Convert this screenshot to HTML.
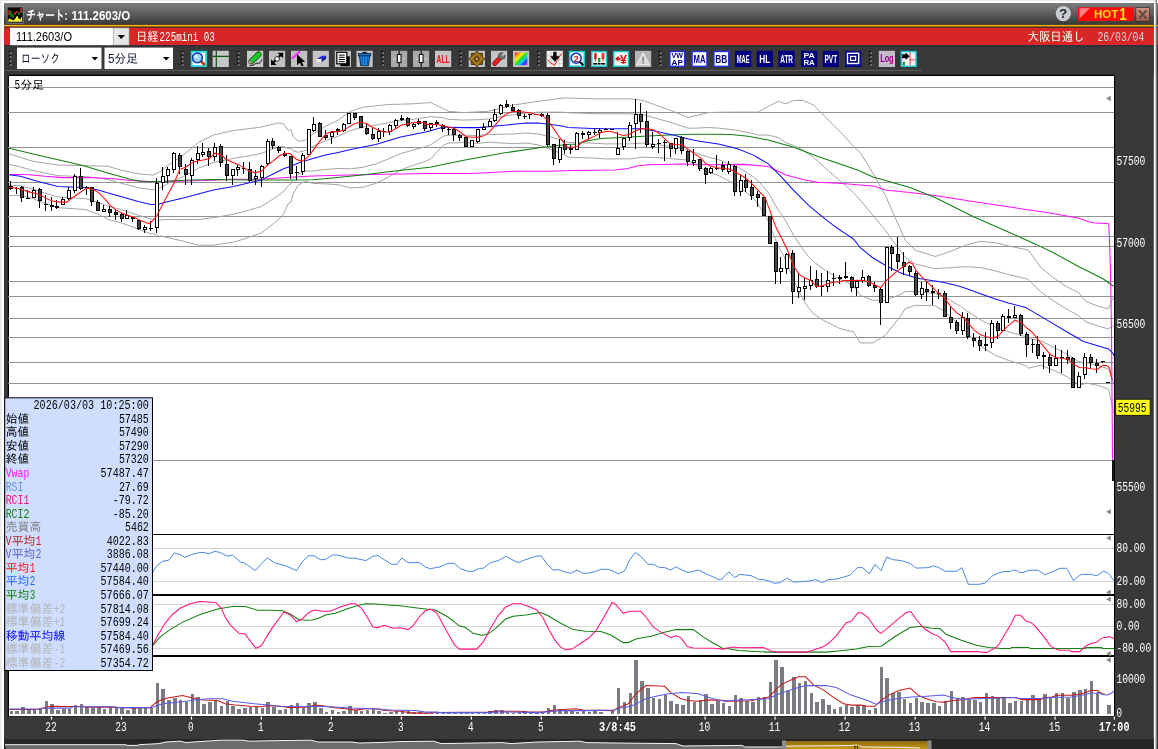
<!DOCTYPE html>
<html lang="ja"><head><meta charset="utf-8"><title>チャート: 111.2603/O</title>
<style>
html,body{margin:0;padding:0;background:#fff;}
body{width:1158px;height:749px;overflow:hidden;position:relative;}
svg{position:absolute;left:0;top:0;display:block;will-change:transform}
text{font-family:"Liberation Sans","IPAGothic","Noto Sans CJK JP",sans-serif;}
.mono{font-family:"Liberation Mono","IPAGothic","Noto Sans CJK JP",monospace;}
</style></head><body>
<svg width="1158" height="749" viewBox="0 0 1158 749">
<defs>
<linearGradient id="tb" x1="0" y1="0" x2="0" y2="1"><stop offset="0" stop-color="#7c7c7c"/><stop offset="0.35" stop-color="#686868"/><stop offset="1" stop-color="#3c3a38"/></linearGradient>
<linearGradient id="cb" x1="0" y1="0" x2="0" y2="1"><stop offset="0" stop-color="#cc9484"/><stop offset="1" stop-color="#a45c4c"/></linearGradient>
<linearGradient id="gold" x1="0" y1="0" x2="0" y2="1"><stop offset="0" stop-color="#8a6a10"/><stop offset="1" stop-color="#c89818"/></linearGradient>
<clipPath id="cc"><rect x="9" y="76" width="1105" height="640"/></clipPath>
</defs>

<rect x="0" y="0" width="1158" height="749" fill="#e9e9e9"/>
<rect x="1.5" y="1" width="1156.5" height="749" fill="#ffffff"/>
<rect x="1155.6" y="0" width="1.3" height="749" fill="#7c7c7c"/>
<rect x="4" y="3" width="1149.8" height="746" fill="#393939"/>
<rect x="4" y="3" width="1149.8" height="21.2" fill="url(#tb)"/>
<rect x="4" y="24" width="1149.8" height="1" fill="#2a2a30"/>
<rect x="4" y="24.8" width="1149.8" height="1.6" fill="#ffb010"/>
<rect x="4" y="26.4" width="1149.8" height="0.7" fill="#9a6a10"/>
<rect x="4" y="27.1" width="1149.8" height="0.8" fill="#3a2a20"/>
<rect x="4" y="27.8" width="1149.8" height="17.3" fill="#d82626"/>
<rect x="4" y="44.2" width="1149.8" height="0.9" fill="#e02a38"/>
<rect x="4" y="45.1" width="1149.8" height="30" fill="#383838"/>
<rect x="4" y="45.1" width="1149.8" height="1.4" fill="#2c3036"/>
<rect x="1156.9" y="3" width="1.1" height="746" fill="#393939"/>
<rect x="1156.9" y="3" width="1.1" height="21.2" fill="url(#tb)"/>
<rect x="1156.9" y="24" width="1.1" height="1" fill="#2a2a30"/>
<rect x="1156.9" y="24.8" width="1.1" height="1.6" fill="#ffb010"/>
<rect x="1156.9" y="26.4" width="1.1" height="0.7" fill="#9a6a10"/>
<rect x="1156.9" y="27.1" width="1.1" height="0.8" fill="#3a2a20"/>
<rect x="1156.9" y="27.8" width="1.1" height="17.3" fill="#d82626"/>
<rect x="1156.9" y="44.2" width="1.1" height="0.9" fill="#e02a38"/>
<rect x="1156.9" y="45.1" width="1.1" height="30" fill="#383838"/>
<rect x="1156.9" y="45.1" width="1.1" height="1.4" fill="#2c3036"/>
<rect x="4" y="69.9" width="918" height="1" fill="#606060"/>
<rect x="7.8" y="74.7" width="1107.2" height="641.5999999999999" fill="#000"/>
<rect x="9" y="76" width="1105" height="640" fill="#fff"/>
<rect x="4" y="739" width="1149.8" height="10" fill="#262626"/>
<g shape-rendering="crispEdges">
<rect x="8" y="86.7" width="1106" height="1" fill="#929292"/>
<rect x="8" y="111.9" width="1106" height="1" fill="#929292"/>
<rect x="8" y="146.7" width="1106" height="1" fill="#929292"/>
<rect x="8" y="181.9" width="1106" height="1" fill="#929292"/>
<rect x="8" y="215.8" width="1106" height="1" fill="#929292"/>
<rect x="8" y="235.8" width="1106" height="1" fill="#929292"/>
<rect x="8" y="245.9" width="1106" height="1" fill="#929292"/>
<rect x="8" y="280.8" width="1106" height="1" fill="#929292"/>
<rect x="8" y="295.9" width="1106" height="1" fill="#929292"/>
<rect x="8" y="317.8" width="1106" height="1" fill="#929292"/>
<rect x="8" y="336.8" width="1106" height="1" fill="#929292"/>
<rect x="8" y="361.9" width="1106" height="1" fill="#929292"/>
<rect x="8" y="382.9" width="1106" height="1" fill="#929292"/>
<rect x="8" y="459.9" width="1106" height="1" fill="#929292"/>
<rect x="9" y="548.0" width="1105" height="1" fill="#d6d6d6"/>
<rect x="9" y="580.8" width="1105" height="1" fill="#d6d6d6"/>
<rect x="9" y="604.0" width="1105" height="1" fill="#d6d6d6"/>
<rect x="9" y="625.7" width="1105" height="1" fill="#d6d6d6"/>
<rect x="9" y="647.9" width="1105" height="1" fill="#d6d6d6"/>
</g>
<g clip-path="url(#cc)">
<polyline points="8.0,153.6 20.5,157.4 33.0,161.3 38.1,162.1 58.1,165.1 83.1,165.6 85.6,165.7 98.2,166.0 108.2,166.3 120.7,170.1 138.2,173.8 150.7,174.9 153.3,175.1 158.3,172.6 160.8,171.3 168.3,165.1 183.3,155.1 198.3,142.6 213.4,135.0 233.4,130.5 248.4,128.7 258.4,127.5 260.9,127.0 273.5,124.1 278.5,123.0 283.5,123.8 288.0,130.1 291.0,130.0 293.0,136.3 298.0,141.3 303.0,140.5 305.5,140.1 313.0,133.9 325.6,126.3 338.1,120.1 350.6,111.3 363.1,107.1 375.7,105.8 388.2,104.5 400.7,104.2 413.2,103.8 425.7,102.9 430.7,102.5 438.3,106.3 443.3,108.8 448.3,111.3 463.3,112.6 478.3,111.8 488.4,111.3 500.9,108.2 513.4,105.0 525.9,103.2 538.4,101.3 551.0,99.7 563.5,98.0 568.0,98.0 593.0,98.8 605.6,98.8 630.6,98.8 643.1,100.5 655.7,105.1 668.2,109.5 673.2,111.3 688.2,117.6 693.2,116.3 698.2,115.1 708.2,112.6 718.3,112.3 730.8,112.1 738.3,112.1 753.3,112.1 758.3,112.1 768.4,106.3 778.4,101.3 780.9,102.1 785.9,103.8 793.4,100.5 803.4,100.5 808.4,102.8 813.4,105.0 823.4,115.0 833.5,125.1 838.5,130.1 843.5,135.1 853.5,146.4 860.2,152.6 872.7,172.6 885.2,195.1 895.2,217.6 900.2,228.8 905.3,240.2 915.3,250.2 932.8,255.7 935.3,256.5 942.8,254.0 950.3,251.5 960.4,247.3 965.4,245.2 977.9,242.0 980.4,241.4 995.4,242.7 1008.3,245.9 1010.4,246.4 1025.8,249.5 1028.4,250.1 1040.9,267.6 1053.4,277.6 1065.9,286.3 1068.4,287.6 1078.4,292.6 1083.4,298.4 1086.0,301.4 1096.0,305.4 1098.5,306.4 1108.5,308.8 1111.0,302.6 1113.0,298.0 1113.5,298.0 1114.0,298.0" fill="none" stroke="#a4a4a4" stroke-width="1" />
<polyline points="8.0,164.1 20.5,166.9 33.0,170.6 38.1,171.7 58.1,175.7 83.1,176.5 85.6,176.6 98.2,178.1 108.2,179.6 120.7,183.2 138.2,187.6 150.7,189.6 153.3,189.7 158.3,188.5 160.8,187.5 168.3,183.2 183.3,176.6 198.3,168.2 213.4,162.6 233.4,158.4 248.4,155.9 258.4,154.1 260.9,153.5 273.5,149.0 278.5,147.2 283.5,146.3 288.0,148.6 291.0,148.0 293.0,150.8 298.0,152.3 303.0,151.0 305.5,150.4 313.0,146.3 325.6,140.7 338.1,136.2 350.6,130.5 363.1,127.1 375.7,125.2 388.2,122.7 400.7,120.6 413.2,119.2 425.7,117.5 430.7,116.6 438.3,117.4 443.3,117.9 448.3,119.3 463.3,120.1 478.3,119.7 488.4,119.0 500.9,116.9 513.4,114.7 525.9,113.1 538.4,112.2 551.0,112.1 563.5,112.2 568.0,112.8 593.0,113.6 605.6,113.8 630.6,113.8 643.1,114.7 655.7,118.2 668.2,121.7 673.2,123.2 688.2,128.2 693.2,128.2 698.2,128.0 708.2,127.5 718.3,128.1 730.8,129.5 738.3,130.5 753.3,133.6 758.3,135.0 768.4,135.1 778.4,137.6 780.9,139.3 785.9,142.9 793.4,145.4 803.4,150.4 808.4,154.0 813.4,157.2 823.4,166.4 833.5,175.2 838.5,179.6 843.5,183.7 853.5,192.7 860.2,200.1 872.7,215.1 885.2,230.1 895.2,243.9 900.2,250.8 905.3,257.3 915.3,264.0 932.8,268.2 935.3,268.8 942.8,268.1 950.3,267.8 960.4,266.9 965.4,266.7 977.9,267.4 980.4,267.5 995.4,270.9 1008.3,274.5 1010.4,275.0 1025.8,278.6 1028.4,279.6 1040.9,292.0 1053.4,300.7 1065.9,308.8 1068.4,310.1 1078.4,315.5 1083.4,319.9 1086.0,321.8 1096.0,325.3 1098.5,326.2 1108.5,328.9 1111.0,327.0 1113.0,325.7 1113.5,326.0 1114.0,327.0" fill="none" stroke="#a4a4a4" stroke-width="1" />
<polyline points="8.0,185.1 20.5,185.8 33.0,189.2 38.1,191.0 58.1,197.0 83.1,198.5 85.6,198.6 98.2,202.2 108.2,206.2 120.7,209.5 138.2,215.2 150.7,219.1 153.3,219.1 158.3,220.3 160.8,219.8 168.3,219.5 183.3,219.7 198.3,219.5 213.4,217.7 233.4,214.3 248.4,210.3 258.4,207.3 260.9,206.7 273.5,198.7 278.5,195.5 283.5,191.4 288.0,185.7 291.0,184.0 293.0,179.7 298.0,174.3 303.0,171.8 305.5,171.0 313.0,171.0 325.6,169.5 338.1,168.5 350.6,168.8 363.1,167.2 375.7,164.0 388.2,159.0 400.7,153.6 413.2,150.0 425.7,146.7 430.7,144.7 438.3,139.6 443.3,136.2 448.3,135.2 463.3,135.1 478.3,135.5 488.4,134.4 500.9,134.3 513.4,134.0 525.9,133.0 538.4,134.0 551.0,137.0 563.5,140.5 568.0,142.4 593.0,143.2 605.6,143.9 630.6,143.9 643.1,143.0 655.7,144.5 668.2,146.0 673.2,147.0 688.2,149.5 693.2,152.0 698.2,153.7 708.2,157.2 718.3,159.6 730.8,164.5 738.3,167.3 753.3,176.7 758.3,181.0 768.4,192.8 778.4,210.3 780.9,213.6 785.9,221.0 793.4,235.0 803.4,250.0 808.4,256.4 813.4,261.5 823.4,269.0 833.5,275.4 838.5,278.5 843.5,281.0 853.5,285.4 860.2,295.3 872.7,300.3 885.2,300.3 895.2,296.5 900.2,294.7 905.3,291.5 915.3,291.5 932.8,293.3 935.3,293.5 942.8,296.4 950.3,300.4 960.4,306.2 965.4,309.9 977.9,318.1 980.4,319.8 995.4,327.2 1008.3,331.7 1010.4,332.3 1025.8,336.7 1028.4,338.6 1040.9,340.8 1053.4,347.1 1065.9,353.6 1068.4,355.2 1078.4,361.4 1083.4,362.9 1086.0,362.6 1096.0,365.1 1098.5,365.7 1108.5,369.0 1111.0,375.9 1113.0,381.2 1113.5,381.9 1114.0,385.0" fill="none" stroke="#a4a4a4" stroke-width="1" />
<polyline points="8.0,195.6 20.5,195.3 33.0,198.5 38.1,200.7 58.1,207.7 83.1,209.4 85.6,209.6 98.2,214.2 108.2,219.5 120.7,222.7 138.2,228.9 150.7,233.9 153.3,233.7 158.3,236.2 160.8,236.0 168.3,237.7 183.3,241.2 198.3,245.2 213.4,245.2 233.4,242.2 248.4,237.5 258.4,233.9 260.9,233.3 273.5,223.5 278.5,219.6 283.5,213.9 288.0,204.2 291.0,202.0 293.0,194.2 298.0,185.3 303.0,182.3 305.5,181.3 313.0,183.4 325.6,183.9 338.1,184.7 350.6,187.9 363.1,187.2 375.7,183.4 388.2,177.2 400.7,170.0 413.2,165.4 425.7,161.3 430.7,158.8 438.3,150.7 443.3,145.4 448.3,143.1 463.3,142.6 478.3,143.4 488.4,142.1 500.9,143.0 513.4,143.6 525.9,143.0 538.4,144.9 551.0,149.5 563.5,154.6 568.0,157.1 593.0,158.1 605.6,158.9 630.6,158.9 643.1,157.1 655.7,157.6 668.2,158.2 673.2,158.9 688.2,160.1 693.2,163.9 698.2,166.6 708.2,172.1 718.3,175.4 730.8,181.9 738.3,185.7 753.3,198.2 758.3,204.0 768.4,221.6 778.4,246.6 780.9,250.8 785.9,260.1 793.4,279.9 803.4,299.9 808.4,307.6 813.4,313.7 823.4,320.4 833.5,325.4 838.5,327.9 843.5,329.6 853.5,331.7 860.2,342.9 872.7,342.9 885.2,335.4 895.2,322.9 900.2,316.6 905.3,308.6 915.3,305.3 932.8,305.8 935.3,305.8 942.8,310.5 950.3,316.7 960.4,325.8 965.4,331.4 977.9,343.5 980.4,345.9 995.4,355.4 1008.3,360.3 1010.4,360.9 1025.8,365.7 1028.4,368.1 1040.9,365.2 1053.4,370.2 1065.9,376.1 1068.4,377.7 1078.4,384.4 1083.4,384.4 1086.0,383.0 1096.0,385.0 1098.5,385.5 1108.5,389.1 1111.0,400.3 1113.0,408.9 1113.5,409.9 1114.0,414.0" fill="none" stroke="#a4a4a4" stroke-width="1" />
<polyline points="8.0,174.5 26.0,174.5 45.0,176.3 63.0,177.6 89.0,177.6 114.0,178.8 131.0,180.6 150.0,181.6 176.0,181.3 204.0,180.6 232.0,179.2 260.0,179.2 290.0,177.2 313.0,176.1 349.0,174.9 386.0,174.2 430.0,173.5 471.0,173.5 514.0,171.3 551.0,171.3 570.0,170.5 615.0,170.1 628.0,168.4 637.0,166.1 648.0,164.8 662.0,164.4 683.0,164.1 710.0,164.8 743.0,164.4 768.0,166.4 776.0,170.2 786.0,175.0 806.0,180.2 818.0,182.2 843.0,183.5 860.0,185.1 875.0,186.3 885.0,190.1 910.0,192.6 935.0,195.6 973.0,201.4 1010.0,207.1 1050.0,213.1 1078.0,218.0 1088.0,221.4 1092.7,222.7 1108.7,223.8 1109.5,240.0 1110.5,270.0 1111.5,330.0 1112.5,460.0 1113.0,480.0" fill="none" stroke="#ff10ff" stroke-width="1.05" />
<polyline points="8.0,148.1 45.0,156.7 82.0,165.3 106.0,172.6 131.0,179.4 143.0,181.5 150.0,181.8 165.0,181.3 190.0,180.1 215.0,179.6 246.0,180.1 290.0,180.0 313.0,179.8 337.0,177.6 362.0,174.9 386.0,172.1 411.0,169.3 430.0,167.3 465.0,160.0 502.0,153.3 539.0,147.7 553.0,145.9 570.0,144.3 576.0,144.3 588.0,140.7 601.0,138.5 621.0,137.4 648.0,136.1 675.0,134.7 694.0,134.3 710.0,134.2 731.0,134.6 748.0,136.3 768.0,140.1 793.0,147.1 818.0,156.4 843.0,165.1 858.0,170.2 873.0,177.1 910.0,187.6 935.0,197.6 973.0,216.4 1010.0,232.7 1035.0,243.9 1053.0,252.5 1078.0,266.3 1103.0,278.8 1113.5,286.3" fill="none" stroke="#108010" stroke-width="1.05" />
<polyline points="8.0,174.6 20.5,176.3 33.0,179.9 38.1,181.4 58.1,186.4 83.1,187.5 85.6,187.6 98.2,190.1 108.2,192.9 120.7,196.4 138.2,201.4 150.7,204.4 153.3,204.4 158.3,204.4 160.8,203.6 168.3,201.4 183.3,198.1 198.3,193.9 213.4,190.1 233.4,186.4 248.4,183.1 258.4,180.7 260.9,180.1 273.5,173.8 278.5,171.3 283.5,168.8 288.0,167.2 291.0,166.0 293.0,165.2 298.0,163.3 303.0,161.4 305.5,160.7 313.0,158.6 325.6,155.1 338.1,152.4 350.6,149.6 363.1,147.1 375.7,144.6 388.2,140.8 400.7,137.1 413.2,134.6 425.7,132.1 430.7,130.7 438.3,128.5 443.3,127.1 448.3,127.2 463.3,127.6 478.3,127.6 488.4,126.7 500.9,125.6 513.4,124.3 525.9,123.1 538.4,123.1 551.0,124.6 563.5,126.3 568.0,127.6 593.0,128.4 605.6,128.8 630.6,128.8 643.1,128.8 655.7,131.3 668.2,133.9 673.2,135.1 688.2,138.9 693.2,140.1 698.2,140.9 708.2,142.4 718.3,143.9 730.8,147.0 738.3,148.9 753.3,155.1 758.3,158.0 768.4,163.9 778.4,173.9 780.9,176.4 785.9,181.9 793.4,190.2 803.4,200.2 808.4,205.2 813.4,209.4 823.4,217.7 833.5,225.3 838.5,229.0 843.5,232.4 853.5,239.0 860.2,247.7 872.7,257.7 885.2,265.2 895.2,270.2 900.2,272.7 905.3,274.4 915.3,277.7 932.8,280.7 935.3,281.1 942.8,282.2 950.3,284.1 960.4,286.5 965.4,288.3 977.9,292.8 980.4,293.7 995.4,299.0 1008.3,303.1 1010.4,303.6 1025.8,307.6 1028.4,309.1 1040.9,316.4 1053.4,323.9 1065.9,331.2 1068.4,332.7 1078.4,338.5 1083.4,341.4 1086.0,342.2 1096.0,345.2 1098.5,345.9 1108.5,348.9 1111.0,351.4 1113.0,353.4 1113.5,354.0 1114.0,356.0" fill="none" stroke="#1010ff" stroke-width="1.05" />
<g shape-rendering="crispEdges">
<rect x="10" y="181" width="1" height="9" fill="#000"/>
<rect x="9" y="186" width="4" height="3" fill="#000"/>
<rect x="10" y="187" width="2" height="1" fill="#484848"/>
<rect x="16" y="187" width="1" height="7" fill="#000"/>
<rect x="15" y="188" width="4" height="1" fill="#000"/>
<rect x="21" y="186" width="1" height="16" fill="#000"/>
<rect x="20" y="187" width="4" height="11" fill="#000"/>
<rect x="21" y="188" width="2" height="9" fill="#484848"/>
<rect x="27" y="190" width="1" height="9" fill="#000"/>
<rect x="26" y="191" width="4" height="1" fill="#000"/>
<rect x="26" y="198" width="4" height="1" fill="#000"/>
<rect x="33" y="187" width="1" height="11" fill="#000"/>
<rect x="32" y="190" width="4" height="8" fill="#000"/>
<rect x="33" y="191" width="2" height="6" fill="#fff"/>
<rect x="39" y="188" width="1" height="20" fill="#000"/>
<rect x="38" y="189" width="4" height="12" fill="#000"/>
<rect x="39" y="190" width="2" height="10" fill="#484848"/>
<rect x="45" y="195" width="1" height="16" fill="#000"/>
<rect x="44" y="204" width="4" height="1" fill="#000"/>
<rect x="51" y="197" width="1" height="14" fill="#000"/>
<rect x="50" y="205" width="4" height="2" fill="#000"/>
<rect x="56" y="200" width="1" height="9" fill="#000"/>
<rect x="55" y="206" width="4" height="2" fill="#000"/>
<rect x="62" y="197" width="1" height="8" fill="#000"/>
<rect x="61" y="199" width="4" height="6" fill="#000"/>
<rect x="62" y="200" width="2" height="4" fill="#fff"/>
<rect x="68" y="187" width="1" height="13" fill="#000"/>
<rect x="67" y="190" width="4" height="9" fill="#000"/>
<rect x="68" y="191" width="2" height="7" fill="#fff"/>
<rect x="74" y="174" width="1" height="19" fill="#000"/>
<rect x="73" y="176" width="4" height="15" fill="#000"/>
<rect x="74" y="177" width="2" height="13" fill="#fff"/>
<rect x="80" y="168" width="1" height="22" fill="#000"/>
<rect x="79" y="176" width="4" height="13" fill="#000"/>
<rect x="80" y="177" width="2" height="11" fill="#484848"/>
<rect x="86" y="186" width="1" height="9" fill="#000"/>
<rect x="85" y="187" width="4" height="1" fill="#000"/>
<rect x="91" y="187" width="1" height="19" fill="#000"/>
<rect x="90" y="187" width="4" height="15" fill="#000"/>
<rect x="91" y="188" width="2" height="13" fill="#484848"/>
<rect x="97" y="200" width="1" height="11" fill="#000"/>
<rect x="96" y="202" width="4" height="9" fill="#000"/>
<rect x="97" y="203" width="2" height="7" fill="#484848"/>
<rect x="103" y="205" width="1" height="6" fill="#000"/>
<rect x="102" y="209" width="4" height="3" fill="#000"/>
<rect x="103" y="210" width="2" height="1" fill="#fff"/>
<rect x="109" y="206" width="1" height="11" fill="#000"/>
<rect x="108" y="209" width="4" height="4" fill="#000"/>
<rect x="109" y="210" width="2" height="2" fill="#484848"/>
<rect x="115" y="210" width="1" height="10" fill="#000"/>
<rect x="114" y="212" width="4" height="3" fill="#000"/>
<rect x="115" y="213" width="2" height="1" fill="#484848"/>
<rect x="121" y="213" width="1" height="9" fill="#000"/>
<rect x="120" y="214" width="4" height="5" fill="#000"/>
<rect x="121" y="215" width="2" height="3" fill="#484848"/>
<rect x="126" y="210" width="1" height="9" fill="#000"/>
<rect x="125" y="215" width="4" height="4" fill="#000"/>
<rect x="126" y="216" width="2" height="2" fill="#fff"/>
<rect x="132" y="217" width="1" height="5" fill="#000"/>
<rect x="131" y="217" width="4" height="2" fill="#000"/>
<rect x="138" y="220" width="1" height="10" fill="#000"/>
<rect x="137" y="220" width="4" height="9" fill="#000"/>
<rect x="138" y="221" width="2" height="7" fill="#484848"/>
<rect x="144" y="225" width="1" height="8" fill="#000"/>
<rect x="143" y="227" width="4" height="3" fill="#000"/>
<rect x="144" y="228" width="2" height="1" fill="#fff"/>
<rect x="150" y="221" width="1" height="10" fill="#000"/>
<rect x="149" y="228" width="4" height="1" fill="#000"/>
<rect x="156" y="178" width="1" height="55" fill="#000"/>
<rect x="155" y="183" width="4" height="45" fill="#000"/>
<rect x="156" y="184" width="2" height="43" fill="#fff"/>
<rect x="162" y="167" width="1" height="23" fill="#000"/>
<rect x="161" y="176" width="4" height="7" fill="#000"/>
<rect x="162" y="177" width="2" height="5" fill="#fff"/>
<rect x="167" y="167" width="1" height="16" fill="#000"/>
<rect x="166" y="169" width="4" height="7" fill="#000"/>
<rect x="167" y="170" width="2" height="5" fill="#fff"/>
<rect x="173" y="152" width="1" height="21" fill="#000"/>
<rect x="172" y="153" width="4" height="17" fill="#000"/>
<rect x="173" y="154" width="2" height="15" fill="#fff"/>
<rect x="179" y="153" width="1" height="21" fill="#000"/>
<rect x="178" y="155" width="4" height="12" fill="#000"/>
<rect x="179" y="156" width="2" height="10" fill="#484848"/>
<rect x="185" y="164" width="1" height="21" fill="#000"/>
<rect x="184" y="169" width="4" height="6" fill="#000"/>
<rect x="185" y="170" width="2" height="4" fill="#484848"/>
<rect x="191" y="158" width="1" height="27" fill="#000"/>
<rect x="190" y="160" width="4" height="16" fill="#000"/>
<rect x="191" y="161" width="2" height="14" fill="#fff"/>
<rect x="197" y="146" width="1" height="18" fill="#000"/>
<rect x="196" y="153" width="4" height="7" fill="#000"/>
<rect x="197" y="154" width="2" height="5" fill="#fff"/>
<rect x="202" y="143" width="1" height="14" fill="#000"/>
<rect x="201" y="152" width="4" height="3" fill="#000"/>
<rect x="202" y="153" width="2" height="1" fill="#fff"/>
<rect x="208" y="148" width="1" height="18" fill="#000"/>
<rect x="207" y="151" width="4" height="6" fill="#000"/>
<rect x="208" y="152" width="2" height="4" fill="#484848"/>
<rect x="214" y="143" width="1" height="18" fill="#000"/>
<rect x="213" y="147" width="4" height="10" fill="#000"/>
<rect x="214" y="148" width="2" height="8" fill="#fff"/>
<rect x="220" y="144" width="1" height="23" fill="#000"/>
<rect x="219" y="146" width="4" height="17" fill="#000"/>
<rect x="220" y="147" width="2" height="15" fill="#484848"/>
<rect x="226" y="155" width="1" height="26" fill="#000"/>
<rect x="225" y="164" width="4" height="12" fill="#000"/>
<rect x="226" y="165" width="2" height="10" fill="#484848"/>
<rect x="232" y="169" width="1" height="16" fill="#000"/>
<rect x="231" y="169" width="4" height="7" fill="#000"/>
<rect x="232" y="170" width="2" height="5" fill="#fff"/>
<rect x="237" y="165" width="1" height="11" fill="#000"/>
<rect x="236" y="167" width="4" height="3" fill="#000"/>
<rect x="237" y="168" width="2" height="1" fill="#fff"/>
<rect x="243" y="162" width="1" height="12" fill="#000"/>
<rect x="242" y="168" width="4" height="1" fill="#000"/>
<rect x="249" y="162" width="1" height="20" fill="#000"/>
<rect x="248" y="169" width="4" height="12" fill="#000"/>
<rect x="249" y="170" width="2" height="10" fill="#484848"/>
<rect x="255" y="170" width="1" height="15" fill="#000"/>
<rect x="254" y="176" width="4" height="3" fill="#000"/>
<rect x="255" y="177" width="2" height="1" fill="#fff"/>
<rect x="261" y="165" width="1" height="22" fill="#000"/>
<rect x="260" y="166" width="4" height="12" fill="#000"/>
<rect x="261" y="167" width="2" height="10" fill="#fff"/>
<rect x="267" y="139" width="1" height="27" fill="#000"/>
<rect x="266" y="141" width="4" height="23" fill="#000"/>
<rect x="267" y="142" width="2" height="21" fill="#fff"/>
<rect x="272" y="138" width="1" height="11" fill="#000"/>
<rect x="271" y="141" width="4" height="5" fill="#000"/>
<rect x="272" y="142" width="2" height="3" fill="#484848"/>
<rect x="278" y="146" width="1" height="7" fill="#000"/>
<rect x="277" y="147" width="4" height="4" fill="#000"/>
<rect x="278" y="148" width="2" height="2" fill="#484848"/>
<rect x="284" y="151" width="1" height="6" fill="#000"/>
<rect x="283" y="153" width="4" height="3" fill="#000"/>
<rect x="284" y="154" width="2" height="1" fill="#484848"/>
<rect x="290" y="156" width="1" height="23" fill="#000"/>
<rect x="289" y="156" width="4" height="18" fill="#000"/>
<rect x="290" y="157" width="2" height="16" fill="#484848"/>
<rect x="296" y="166" width="1" height="14" fill="#000"/>
<rect x="295" y="172" width="4" height="1" fill="#000"/>
<rect x="302" y="153" width="1" height="22" fill="#000"/>
<rect x="301" y="155" width="4" height="17" fill="#000"/>
<rect x="302" y="156" width="2" height="15" fill="#fff"/>
<rect x="308" y="129" width="1" height="26" fill="#000"/>
<rect x="307" y="129" width="4" height="26" fill="#000"/>
<rect x="308" y="130" width="2" height="24" fill="#fff"/>
<rect x="313" y="117" width="1" height="15" fill="#000"/>
<rect x="312" y="124" width="4" height="7" fill="#000"/>
<rect x="313" y="125" width="2" height="5" fill="#fff"/>
<rect x="319" y="122" width="1" height="15" fill="#000"/>
<rect x="318" y="123" width="4" height="14" fill="#000"/>
<rect x="319" y="124" width="2" height="12" fill="#484848"/>
<rect x="325" y="130" width="1" height="10" fill="#000"/>
<rect x="324" y="135" width="4" height="3" fill="#000"/>
<rect x="325" y="136" width="2" height="1" fill="#484848"/>
<rect x="331" y="132" width="1" height="12" fill="#000"/>
<rect x="330" y="132" width="4" height="5" fill="#000"/>
<rect x="331" y="133" width="2" height="3" fill="#fff"/>
<rect x="337" y="128" width="1" height="7" fill="#000"/>
<rect x="336" y="129" width="4" height="3" fill="#000"/>
<rect x="337" y="130" width="2" height="1" fill="#484848"/>
<rect x="343" y="123" width="1" height="9" fill="#000"/>
<rect x="342" y="124" width="4" height="7" fill="#000"/>
<rect x="343" y="125" width="2" height="5" fill="#fff"/>
<rect x="348" y="113" width="1" height="11" fill="#000"/>
<rect x="347" y="113" width="4" height="11" fill="#000"/>
<rect x="348" y="114" width="2" height="9" fill="#fff"/>
<rect x="354" y="113" width="1" height="7" fill="#000"/>
<rect x="353" y="113" width="4" height="5" fill="#000"/>
<rect x="354" y="114" width="2" height="3" fill="#484848"/>
<rect x="360" y="116" width="1" height="12" fill="#000"/>
<rect x="359" y="116" width="4" height="12" fill="#000"/>
<rect x="360" y="117" width="2" height="10" fill="#484848"/>
<rect x="366" y="124" width="1" height="11" fill="#000"/>
<rect x="365" y="128" width="4" height="6" fill="#000"/>
<rect x="366" y="129" width="2" height="4" fill="#484848"/>
<rect x="372" y="128" width="1" height="12" fill="#000"/>
<rect x="371" y="134" width="4" height="5" fill="#000"/>
<rect x="372" y="135" width="2" height="3" fill="#484848"/>
<rect x="378" y="128" width="1" height="14" fill="#000"/>
<rect x="377" y="131" width="4" height="8" fill="#000"/>
<rect x="378" y="132" width="2" height="6" fill="#fff"/>
<rect x="383" y="128" width="1" height="9" fill="#000"/>
<rect x="382" y="131" width="4" height="1" fill="#000"/>
<rect x="389" y="124" width="1" height="11" fill="#000"/>
<rect x="388" y="125" width="4" height="7" fill="#000"/>
<rect x="389" y="126" width="2" height="5" fill="#fff"/>
<rect x="395" y="119" width="1" height="10" fill="#000"/>
<rect x="394" y="120" width="4" height="6" fill="#000"/>
<rect x="395" y="121" width="2" height="4" fill="#fff"/>
<rect x="401" y="115" width="1" height="6" fill="#000"/>
<rect x="400" y="118" width="4" height="2" fill="#000"/>
<rect x="407" y="117" width="1" height="10" fill="#000"/>
<rect x="406" y="118" width="4" height="8" fill="#000"/>
<rect x="407" y="119" width="2" height="6" fill="#484848"/>
<rect x="413" y="123" width="1" height="6" fill="#000"/>
<rect x="412" y="124" width="4" height="3" fill="#000"/>
<rect x="413" y="125" width="2" height="1" fill="#fff"/>
<rect x="418" y="119" width="1" height="6" fill="#000"/>
<rect x="417" y="121" width="4" height="3" fill="#000"/>
<rect x="418" y="122" width="2" height="1" fill="#484848"/>
<rect x="424" y="121" width="1" height="10" fill="#000"/>
<rect x="423" y="121" width="4" height="8" fill="#000"/>
<rect x="424" y="122" width="2" height="6" fill="#484848"/>
<rect x="430" y="123" width="1" height="8" fill="#000"/>
<rect x="429" y="123" width="4" height="5" fill="#000"/>
<rect x="430" y="124" width="2" height="3" fill="#fff"/>
<rect x="436" y="120" width="1" height="7" fill="#000"/>
<rect x="435" y="122" width="4" height="2" fill="#000"/>
<rect x="442" y="124" width="1" height="8" fill="#000"/>
<rect x="441" y="125" width="4" height="4" fill="#000"/>
<rect x="442" y="126" width="2" height="2" fill="#484848"/>
<rect x="448" y="127" width="1" height="8" fill="#000"/>
<rect x="447" y="129" width="4" height="1" fill="#000"/>
<rect x="453" y="128" width="1" height="13" fill="#000"/>
<rect x="452" y="129" width="4" height="6" fill="#000"/>
<rect x="453" y="130" width="2" height="4" fill="#484848"/>
<rect x="459" y="134" width="1" height="7" fill="#000"/>
<rect x="458" y="135" width="4" height="3" fill="#000"/>
<rect x="459" y="136" width="2" height="1" fill="#484848"/>
<rect x="465" y="137" width="1" height="10" fill="#000"/>
<rect x="464" y="137" width="4" height="10" fill="#000"/>
<rect x="465" y="138" width="2" height="8" fill="#484848"/>
<rect x="471" y="140" width="1" height="7" fill="#000"/>
<rect x="470" y="140" width="4" height="7" fill="#000"/>
<rect x="471" y="141" width="2" height="5" fill="#fff"/>
<rect x="477" y="129" width="1" height="14" fill="#000"/>
<rect x="476" y="129" width="4" height="13" fill="#000"/>
<rect x="477" y="130" width="2" height="11" fill="#fff"/>
<rect x="483" y="123" width="1" height="7" fill="#000"/>
<rect x="482" y="127" width="4" height="3" fill="#000"/>
<rect x="483" y="128" width="2" height="1" fill="#fff"/>
<rect x="489" y="119" width="1" height="8" fill="#000"/>
<rect x="488" y="121" width="4" height="6" fill="#000"/>
<rect x="489" y="122" width="2" height="4" fill="#fff"/>
<rect x="494" y="109" width="1" height="13" fill="#000"/>
<rect x="493" y="114" width="4" height="7" fill="#000"/>
<rect x="494" y="115" width="2" height="5" fill="#fff"/>
<rect x="500" y="104" width="1" height="11" fill="#000"/>
<rect x="499" y="105" width="4" height="9" fill="#000"/>
<rect x="500" y="106" width="2" height="7" fill="#fff"/>
<rect x="506" y="100" width="1" height="8" fill="#000"/>
<rect x="505" y="104" width="4" height="3" fill="#000"/>
<rect x="506" y="105" width="2" height="1" fill="#484848"/>
<rect x="512" y="104" width="1" height="7" fill="#000"/>
<rect x="511" y="107" width="4" height="4" fill="#000"/>
<rect x="512" y="108" width="2" height="2" fill="#484848"/>
<rect x="518" y="109" width="1" height="10" fill="#000"/>
<rect x="517" y="110" width="4" height="6" fill="#000"/>
<rect x="518" y="111" width="2" height="4" fill="#484848"/>
<rect x="524" y="114" width="1" height="5" fill="#000"/>
<rect x="523" y="116" width="4" height="1" fill="#000"/>
<rect x="529" y="114" width="1" height="5" fill="#000"/>
<rect x="528" y="114" width="4" height="1" fill="#000"/>
<rect x="535" y="114" width="1" height="1" fill="#000"/>
<rect x="534" y="114" width="4" height="1" fill="#000"/>
<rect x="541" y="113" width="1" height="4" fill="#000"/>
<rect x="540" y="114" width="4" height="2" fill="#000"/>
<rect x="547" y="113" width="1" height="33" fill="#000"/>
<rect x="546" y="115" width="4" height="30" fill="#000"/>
<rect x="547" y="116" width="2" height="28" fill="#484848"/>
<rect x="553" y="144" width="1" height="21" fill="#000"/>
<rect x="552" y="144" width="4" height="15" fill="#000"/>
<rect x="553" y="145" width="2" height="13" fill="#484848"/>
<rect x="559" y="139" width="1" height="24" fill="#000"/>
<rect x="558" y="147" width="4" height="13" fill="#000"/>
<rect x="559" y="148" width="2" height="11" fill="#fff"/>
<rect x="564" y="140" width="1" height="14" fill="#000"/>
<rect x="563" y="144" width="4" height="6" fill="#000"/>
<rect x="564" y="145" width="2" height="4" fill="#484848"/>
<rect x="570" y="145" width="1" height="9" fill="#000"/>
<rect x="569" y="148" width="4" height="2" fill="#000"/>
<rect x="576" y="132" width="1" height="18" fill="#000"/>
<rect x="575" y="133" width="4" height="17" fill="#000"/>
<rect x="576" y="134" width="2" height="15" fill="#fff"/>
<rect x="582" y="131" width="1" height="8" fill="#000"/>
<rect x="581" y="133" width="4" height="2" fill="#000"/>
<rect x="588" y="131" width="1" height="8" fill="#000"/>
<rect x="587" y="132" width="4" height="3" fill="#000"/>
<rect x="588" y="133" width="2" height="1" fill="#fff"/>
<rect x="594" y="128" width="1" height="7" fill="#000"/>
<rect x="593" y="132" width="4" height="1" fill="#000"/>
<rect x="599" y="128" width="1" height="10" fill="#000"/>
<rect x="598" y="130" width="4" height="3" fill="#000"/>
<rect x="599" y="131" width="2" height="1" fill="#fff"/>
<rect x="605" y="128" width="1" height="2" fill="#000"/>
<rect x="604" y="129" width="4" height="1" fill="#000"/>
<rect x="611" y="129" width="1" height="1" fill="#000"/>
<rect x="610" y="129" width="4" height="1" fill="#000"/>
<rect x="617" y="132" width="1" height="23" fill="#000"/>
<rect x="616" y="148" width="4" height="7" fill="#000"/>
<rect x="617" y="149" width="2" height="5" fill="#fff"/>
<rect x="623" y="138" width="1" height="12" fill="#000"/>
<rect x="622" y="138" width="4" height="9" fill="#000"/>
<rect x="623" y="139" width="2" height="7" fill="#fff"/>
<rect x="629" y="122" width="1" height="19" fill="#000"/>
<rect x="628" y="125" width="4" height="13" fill="#000"/>
<rect x="629" y="126" width="2" height="11" fill="#fff"/>
<rect x="635" y="99" width="1" height="50" fill="#000"/>
<rect x="634" y="114" width="4" height="10" fill="#000"/>
<rect x="635" y="115" width="2" height="8" fill="#fff"/>
<rect x="640" y="103" width="1" height="30" fill="#000"/>
<rect x="639" y="114" width="4" height="8" fill="#000"/>
<rect x="640" y="115" width="2" height="6" fill="#484848"/>
<rect x="646" y="111" width="1" height="36" fill="#000"/>
<rect x="645" y="121" width="4" height="24" fill="#000"/>
<rect x="646" y="122" width="2" height="22" fill="#484848"/>
<rect x="652" y="132" width="1" height="17" fill="#000"/>
<rect x="651" y="144" width="4" height="3" fill="#000"/>
<rect x="652" y="145" width="2" height="1" fill="#fff"/>
<rect x="658" y="139" width="1" height="14" fill="#000"/>
<rect x="657" y="143" width="4" height="1" fill="#000"/>
<rect x="664" y="140" width="1" height="21" fill="#000"/>
<rect x="663" y="142" width="4" height="1" fill="#000"/>
<rect x="670" y="143" width="1" height="14" fill="#000"/>
<rect x="669" y="143" width="4" height="6" fill="#000"/>
<rect x="670" y="144" width="2" height="4" fill="#484848"/>
<rect x="675" y="138" width="1" height="16" fill="#000"/>
<rect x="674" y="138" width="4" height="11" fill="#000"/>
<rect x="675" y="139" width="2" height="9" fill="#fff"/>
<rect x="681" y="136" width="1" height="18" fill="#000"/>
<rect x="680" y="137" width="4" height="14" fill="#000"/>
<rect x="681" y="138" width="2" height="12" fill="#484848"/>
<rect x="687" y="150" width="1" height="16" fill="#000"/>
<rect x="686" y="151" width="4" height="11" fill="#000"/>
<rect x="687" y="152" width="2" height="9" fill="#484848"/>
<rect x="693" y="149" width="1" height="17" fill="#000"/>
<rect x="692" y="160" width="4" height="3" fill="#000"/>
<rect x="693" y="161" width="2" height="1" fill="#fff"/>
<rect x="699" y="159" width="1" height="12" fill="#000"/>
<rect x="698" y="159" width="4" height="10" fill="#000"/>
<rect x="699" y="160" width="2" height="8" fill="#484848"/>
<rect x="705" y="167" width="1" height="17" fill="#000"/>
<rect x="704" y="168" width="4" height="7" fill="#000"/>
<rect x="705" y="169" width="2" height="5" fill="#484848"/>
<rect x="710" y="167" width="1" height="7" fill="#000"/>
<rect x="709" y="168" width="4" height="5" fill="#000"/>
<rect x="710" y="169" width="2" height="3" fill="#fff"/>
<rect x="716" y="155" width="1" height="15" fill="#000"/>
<rect x="715" y="168" width="4" height="1" fill="#000"/>
<rect x="722" y="162" width="1" height="10" fill="#000"/>
<rect x="721" y="165" width="4" height="5" fill="#000"/>
<rect x="722" y="166" width="2" height="3" fill="#484848"/>
<rect x="728" y="161" width="1" height="13" fill="#000"/>
<rect x="727" y="164" width="4" height="8" fill="#000"/>
<rect x="728" y="165" width="2" height="6" fill="#fff"/>
<rect x="734" y="165" width="1" height="31" fill="#000"/>
<rect x="733" y="166" width="4" height="26" fill="#000"/>
<rect x="734" y="167" width="2" height="24" fill="#484848"/>
<rect x="740" y="175" width="1" height="21" fill="#000"/>
<rect x="739" y="180" width="4" height="12" fill="#000"/>
<rect x="740" y="181" width="2" height="10" fill="#fff"/>
<rect x="745" y="174" width="1" height="18" fill="#000"/>
<rect x="744" y="180" width="4" height="8" fill="#000"/>
<rect x="745" y="181" width="2" height="6" fill="#484848"/>
<rect x="751" y="180" width="1" height="20" fill="#000"/>
<rect x="750" y="187" width="4" height="9" fill="#000"/>
<rect x="751" y="188" width="2" height="7" fill="#484848"/>
<rect x="757" y="191" width="1" height="16" fill="#000"/>
<rect x="756" y="194" width="4" height="4" fill="#000"/>
<rect x="757" y="195" width="2" height="2" fill="#484848"/>
<rect x="763" y="197" width="1" height="19" fill="#000"/>
<rect x="762" y="197" width="4" height="19" fill="#000"/>
<rect x="763" y="198" width="2" height="17" fill="#484848"/>
<rect x="769" y="216" width="1" height="28" fill="#000"/>
<rect x="768" y="216" width="4" height="28" fill="#000"/>
<rect x="769" y="217" width="2" height="26" fill="#484848"/>
<rect x="775" y="242" width="1" height="42" fill="#000"/>
<rect x="774" y="242" width="4" height="30" fill="#000"/>
<rect x="775" y="243" width="2" height="28" fill="#484848"/>
<rect x="780" y="257" width="1" height="27" fill="#000"/>
<rect x="779" y="268" width="4" height="4" fill="#000"/>
<rect x="780" y="269" width="2" height="2" fill="#fff"/>
<rect x="786" y="253" width="1" height="21" fill="#000"/>
<rect x="785" y="254" width="4" height="15" fill="#000"/>
<rect x="786" y="255" width="2" height="13" fill="#fff"/>
<rect x="792" y="250" width="1" height="54" fill="#000"/>
<rect x="791" y="253" width="4" height="39" fill="#000"/>
<rect x="792" y="254" width="2" height="37" fill="#484848"/>
<rect x="798" y="274" width="1" height="24" fill="#000"/>
<rect x="797" y="287" width="4" height="5" fill="#000"/>
<rect x="798" y="288" width="2" height="3" fill="#fff"/>
<rect x="804" y="278" width="1" height="22" fill="#000"/>
<rect x="803" y="286" width="4" height="3" fill="#000"/>
<rect x="804" y="287" width="2" height="1" fill="#fff"/>
<rect x="810" y="266" width="1" height="24" fill="#000"/>
<rect x="809" y="280" width="4" height="6" fill="#000"/>
<rect x="810" y="281" width="2" height="4" fill="#fff"/>
<rect x="816" y="270" width="1" height="18" fill="#000"/>
<rect x="815" y="279" width="4" height="8" fill="#000"/>
<rect x="816" y="280" width="2" height="6" fill="#484848"/>
<rect x="821" y="273" width="1" height="23" fill="#000"/>
<rect x="820" y="286" width="4" height="1" fill="#000"/>
<rect x="827" y="271" width="1" height="21" fill="#000"/>
<rect x="826" y="280" width="4" height="7" fill="#000"/>
<rect x="827" y="281" width="2" height="5" fill="#fff"/>
<rect x="833" y="273" width="1" height="13" fill="#000"/>
<rect x="832" y="278" width="4" height="1" fill="#000"/>
<rect x="839" y="275" width="1" height="9" fill="#000"/>
<rect x="838" y="277" width="4" height="2" fill="#000"/>
<rect x="845" y="262" width="1" height="17" fill="#000"/>
<rect x="844" y="276" width="4" height="2" fill="#000"/>
<rect x="851" y="276" width="1" height="16" fill="#000"/>
<rect x="850" y="277" width="4" height="11" fill="#000"/>
<rect x="851" y="278" width="2" height="9" fill="#484848"/>
<rect x="856" y="281" width="1" height="15" fill="#000"/>
<rect x="855" y="281" width="4" height="7" fill="#000"/>
<rect x="856" y="282" width="2" height="5" fill="#fff"/>
<rect x="862" y="270" width="1" height="13" fill="#000"/>
<rect x="861" y="277" width="4" height="4" fill="#000"/>
<rect x="862" y="278" width="2" height="2" fill="#fff"/>
<rect x="868" y="275" width="1" height="12" fill="#000"/>
<rect x="867" y="276" width="4" height="10" fill="#000"/>
<rect x="868" y="277" width="2" height="8" fill="#484848"/>
<rect x="874" y="282" width="1" height="10" fill="#000"/>
<rect x="873" y="285" width="4" height="3" fill="#000"/>
<rect x="874" y="286" width="2" height="1" fill="#484848"/>
<rect x="880" y="288" width="1" height="37" fill="#000"/>
<rect x="879" y="289" width="4" height="14" fill="#000"/>
<rect x="880" y="290" width="2" height="12" fill="#484848"/>
<rect x="886" y="247" width="1" height="56" fill="#000"/>
<rect x="885" y="247" width="4" height="56" fill="#000"/>
<rect x="886" y="248" width="2" height="54" fill="#fff"/>
<rect x="891" y="245" width="1" height="26" fill="#000"/>
<rect x="890" y="247" width="4" height="7" fill="#000"/>
<rect x="891" y="248" width="2" height="5" fill="#484848"/>
<rect x="897" y="237" width="1" height="32" fill="#000"/>
<rect x="896" y="254" width="4" height="8" fill="#000"/>
<rect x="897" y="255" width="2" height="6" fill="#484848"/>
<rect x="903" y="252" width="1" height="23" fill="#000"/>
<rect x="902" y="262" width="4" height="5" fill="#000"/>
<rect x="903" y="263" width="2" height="3" fill="#484848"/>
<rect x="909" y="265" width="1" height="11" fill="#000"/>
<rect x="908" y="266" width="4" height="6" fill="#000"/>
<rect x="909" y="267" width="2" height="4" fill="#484848"/>
<rect x="915" y="271" width="1" height="25" fill="#000"/>
<rect x="914" y="273" width="4" height="22" fill="#000"/>
<rect x="915" y="274" width="2" height="20" fill="#484848"/>
<rect x="921" y="282" width="1" height="17" fill="#000"/>
<rect x="920" y="288" width="4" height="7" fill="#000"/>
<rect x="921" y="289" width="2" height="5" fill="#fff"/>
<rect x="926" y="282" width="1" height="19" fill="#000"/>
<rect x="925" y="289" width="4" height="3" fill="#000"/>
<rect x="926" y="290" width="2" height="1" fill="#484848"/>
<rect x="932" y="285" width="1" height="20" fill="#000"/>
<rect x="931" y="291" width="4" height="2" fill="#000"/>
<rect x="938" y="289" width="1" height="10" fill="#000"/>
<rect x="937" y="293" width="4" height="1" fill="#000"/>
<rect x="944" y="291" width="1" height="26" fill="#000"/>
<rect x="943" y="293" width="4" height="24" fill="#000"/>
<rect x="944" y="294" width="2" height="22" fill="#484848"/>
<rect x="950" y="307" width="1" height="22" fill="#000"/>
<rect x="949" y="317" width="4" height="6" fill="#000"/>
<rect x="950" y="318" width="2" height="4" fill="#484848"/>
<rect x="956" y="320" width="1" height="14" fill="#000"/>
<rect x="955" y="322" width="4" height="9" fill="#000"/>
<rect x="956" y="323" width="2" height="7" fill="#484848"/>
<rect x="962" y="312" width="1" height="23" fill="#000"/>
<rect x="961" y="317" width="4" height="14" fill="#000"/>
<rect x="962" y="318" width="2" height="12" fill="#fff"/>
<rect x="967" y="313" width="1" height="26" fill="#000"/>
<rect x="966" y="318" width="4" height="19" fill="#000"/>
<rect x="967" y="319" width="2" height="17" fill="#484848"/>
<rect x="973" y="333" width="1" height="14" fill="#000"/>
<rect x="972" y="338" width="4" height="3" fill="#000"/>
<rect x="973" y="339" width="2" height="1" fill="#484848"/>
<rect x="979" y="336" width="1" height="15" fill="#000"/>
<rect x="978" y="340" width="4" height="6" fill="#000"/>
<rect x="979" y="341" width="2" height="4" fill="#484848"/>
<rect x="985" y="332" width="1" height="19" fill="#000"/>
<rect x="984" y="344" width="4" height="2" fill="#000"/>
<rect x="991" y="320" width="1" height="28" fill="#000"/>
<rect x="990" y="323" width="4" height="20" fill="#000"/>
<rect x="991" y="324" width="2" height="18" fill="#fff"/>
<rect x="997" y="321" width="1" height="18" fill="#000"/>
<rect x="996" y="323" width="4" height="8" fill="#000"/>
<rect x="997" y="324" width="2" height="6" fill="#484848"/>
<rect x="1002" y="314" width="1" height="17" fill="#000"/>
<rect x="1001" y="316" width="4" height="15" fill="#000"/>
<rect x="1002" y="317" width="2" height="13" fill="#fff"/>
<rect x="1008" y="309" width="1" height="14" fill="#000"/>
<rect x="1007" y="316" width="4" height="2" fill="#000"/>
<rect x="1014" y="306" width="1" height="12" fill="#000"/>
<rect x="1013" y="315" width="4" height="3" fill="#000"/>
<rect x="1014" y="316" width="2" height="1" fill="#fff"/>
<rect x="1020" y="314" width="1" height="22" fill="#000"/>
<rect x="1019" y="315" width="4" height="19" fill="#000"/>
<rect x="1020" y="316" width="2" height="17" fill="#484848"/>
<rect x="1026" y="332" width="1" height="25" fill="#000"/>
<rect x="1025" y="334" width="4" height="11" fill="#000"/>
<rect x="1026" y="335" width="2" height="9" fill="#484848"/>
<rect x="1032" y="339" width="1" height="14" fill="#000"/>
<rect x="1031" y="344" width="4" height="1" fill="#000"/>
<rect x="1037" y="336" width="1" height="23" fill="#000"/>
<rect x="1036" y="344" width="4" height="12" fill="#000"/>
<rect x="1037" y="345" width="2" height="10" fill="#484848"/>
<rect x="1043" y="352" width="1" height="17" fill="#000"/>
<rect x="1042" y="355" width="4" height="2" fill="#000"/>
<rect x="1049" y="354" width="1" height="19" fill="#000"/>
<rect x="1048" y="357" width="4" height="9" fill="#000"/>
<rect x="1049" y="358" width="2" height="7" fill="#484848"/>
<rect x="1055" y="345" width="1" height="21" fill="#000"/>
<rect x="1054" y="358" width="4" height="8" fill="#000"/>
<rect x="1055" y="359" width="2" height="6" fill="#fff"/>
<rect x="1061" y="350" width="1" height="23" fill="#000"/>
<rect x="1060" y="357" width="4" height="1" fill="#000"/>
<rect x="1067" y="350" width="1" height="14" fill="#000"/>
<rect x="1066" y="357" width="4" height="3" fill="#000"/>
<rect x="1067" y="358" width="2" height="1" fill="#484848"/>
<rect x="1072" y="357" width="1" height="31" fill="#000"/>
<rect x="1071" y="358" width="4" height="30" fill="#000"/>
<rect x="1072" y="359" width="2" height="28" fill="#484848"/>
<rect x="1078" y="372" width="1" height="16" fill="#000"/>
<rect x="1077" y="376" width="4" height="12" fill="#000"/>
<rect x="1078" y="377" width="2" height="10" fill="#fff"/>
<rect x="1084" y="353" width="1" height="26" fill="#000"/>
<rect x="1083" y="357" width="4" height="18" fill="#000"/>
<rect x="1084" y="358" width="2" height="16" fill="#fff"/>
<rect x="1090" y="354" width="1" height="15" fill="#000"/>
<rect x="1089" y="357" width="4" height="6" fill="#000"/>
<rect x="1090" y="358" width="2" height="4" fill="#484848"/>
<rect x="1096" y="359" width="1" height="14" fill="#000"/>
<rect x="1095" y="363" width="4" height="3" fill="#000"/>
<rect x="1096" y="364" width="2" height="1" fill="#484848"/>
<rect x="1102" y="361" width="1" height="2" fill="#000"/>
<rect x="1101" y="361" width="4" height="1" fill="#000"/>
<rect x="1107" y="382" width="1" height="1" fill="#000"/>
<rect x="1106" y="382" width="4" height="1" fill="#000"/>
<rect x="1112.3" y="460" width="1.7" height="21" fill="#111"/>
</g>
<polyline points="8.0,187.4 15.4,188.0 22.7,189.8 30.1,192.3 36.3,193.5 41.2,195.4 46.1,198.4 52.2,200.9 59.6,202.1 67.0,202.1 73.1,197.2 80.5,192.3 86.6,188.0 94.0,189.8 98.9,192.9 105.1,199.1 110.0,205.2 116.1,210.1 122.3,213.2 128.4,215.6 134.5,217.5 140.7,220.6 146.8,223.0 150.0,223.6 156.6,216.3 162.3,205.1 168.2,193.9 174.1,182.7 179.8,169.3 185.7,167.2 191.5,163.0 197.3,160.9 203.2,160.0 209.0,158.8 214.9,153.2 220.6,154.6 226.5,159.5 232.4,162.3 238.1,164.4 244.0,167.9 249.8,171.5 255.7,172.6 261.6,171.2 267.3,165.1 273.2,160.9 279.1,156.0 284.8,153.2 288.0,153.4 290.0,153.5 296.5,159.5 302.4,161.3 308.1,157.0 314.0,149.1 319.8,141.1 325.7,134.3 331.5,131.6 337.4,131.6 343.2,130.6 349.1,126.9 354.8,123.5 360.7,122.3 366.5,123.5 372.4,127.2 378.2,130.0 383.9,131.9 389.8,131.9 395.6,128.8 401.5,125.1 407.3,123.9 413.2,122.6 419.0,122.3 424.9,123.3 428.0,124.6 430.0,124.5 436.5,124.6 442.4,125.4 448.1,126.9 454.0,128.3 459.8,131.8 465.7,136.4 471.5,137.3 477.4,137.3 483.2,136.1 489.1,132.4 494.8,125.6 500.7,118.3 506.5,114.0 512.4,111.5 518.2,111.5 523.9,111.9 529.8,112.7 536.1,114.6 541.5,115.2 547.3,119.5 553.2,128.1 559.0,136.7 564.9,144.1 568.0,148.1 570.0,147.1 577.1,146.7 582.7,141.7 588.7,139.0 594.7,136.1 600.7,132.7 605.7,131.4 611.4,131.4 618.1,134.1 623.4,135.4 629.4,134.5 635.4,130.7 641.4,128.7 647.2,128.7 653.4,129.7 658.8,133.1 664.5,138.7 670.5,144.1 676.4,144.7 682.4,144.7 688.2,149.4 693.8,153.4 699.9,157.4 705.5,163.4 710.1,166.1 717.3,167.7 723.1,168.4 729.0,169.0 734.7,171.7 740.7,175.0 746.7,179.0 752.5,184.4 758.1,190.4 764.1,196.4 766.1,200.4 770.1,211.1 775.3,225.7 781.3,237.7 787.4,249.7 793.4,265.7 799.1,274.4 804.7,277.8 810.7,280.4 816.5,286.4 822.3,285.8 828.3,283.4 834.4,282.0 839.4,282.0 843.2,280.4 851.4,280.4 854.7,280.5 856.8,280.4 863.3,280.5 869.1,281.8 875.0,285.0 880.7,287.7 886.4,280.5 892.5,275.1 898.3,270.1 904.3,265.8 909.0,262.0 912.7,264.0 916.1,270.7 921.7,276.7 927.7,282.7 933.4,288.1 936.3,291.4 939.0,293.4 945.0,298.7 950.8,306.7 956.6,312.7 962.4,316.7 968.4,323.4 974.4,330.1 980.4,334.8 986.4,336.8 992.1,338.1 997.8,336.5 1003.5,330.1 1009.4,324.7 1015.1,320.1 1018.0,321.4 1020.9,322.0 1026.9,328.0 1032.7,332.7 1038.4,340.1 1044.4,347.4 1050.4,354.7 1056.3,357.4 1061.4,358.5 1067.7,359.0 1073.4,364.1 1079.4,367.4 1085.4,367.8 1091.2,368.8 1097.4,369.4 1100.8,366.8 1103.0,365.4 1107.5,365.7 1109.5,368.1 1112.1,380.1" fill="none" stroke="#ff1010" stroke-width="1.05" />
</g>
<g shape-rendering="crispEdges">
<rect x="9" y="533.8" width="1105" height="1.4" fill="#000"/>
<rect x="9" y="593.7" width="1105" height="2.2" fill="#000"/>
<rect x="9" y="655" width="1105" height="2.2" fill="#000"/>
</g>
<g clip-path="url(#cc)">
<polyline points="152.5,572.6 156.3,566.3 162.5,561.3 168.8,560.1 174.5,553.0 180.1,554.5 185.1,557.5 191.3,554.5 200.1,552.5 203.8,552.5 208.9,553.8 215.1,551.3 220.1,552.5 227.6,556.3 232.6,555.0 240.2,562.1 243.9,562.6 255.2,570.6 261.4,563.8 267.2,558.0 275.2,563.1 285.2,565.6 296.5,570.6 302.8,561.3 308.3,555.8 314.0,555.8 320.3,559.6 325.3,559.6 332.3,555.0 337.8,555.0 347.8,558.0 355.4,558.3 365.9,560.6 372.9,556.3 377.9,555.5 384.2,559.6 391.7,564.3 396.7,564.3 401.7,558.0 408.0,562.6 419.2,562.6 425.5,567.1 430.5,568.8 438.0,567.1 438.0,567.6 448.0,563.3 454.3,563.3 460.5,568.8 468.1,571.3 473.1,571.3 479.3,568.3 483.1,568.3 490.6,562.6 498.1,560.6 506.1,556.3 511.9,559.6 518.1,562.6 524.4,560.1 535.7,556.3 541.2,555.8 546.9,563.8 553.2,570.1 558.2,569.6 565.7,572.1 570.7,573.3 577.0,570.1 583.3,573.3 588.3,573.1 594.5,571.8 600.8,569.3 608.3,569.3 613.3,571.3 618.3,573.8 624.6,570.8 629.6,560.1 635.3,552.5 640.9,556.3 647.9,564.3 653.4,564.3 659.6,567.6 664.6,567.6 670.9,570.1 675.9,566.8 682.2,570.1 688.4,572.6 698.5,570.1 706.0,573.8 713.5,577.1 718.5,579.6 722.2,578.8 726.0,574.6 726.0,574.6 729.0,572.1 734.8,577.6 739.8,574.3 746.0,575.1 751.0,575.6 758.6,579.3 763.6,579.6 769.8,581.3 774.8,583.3 779.8,582.6 787.4,578.1 793.6,582.1 801.1,581.6 808.6,581.1 815.7,579.6 822.4,582.6 828.7,579.6 836.2,579.1 843.7,577.1 850.0,575.1 857.5,567.6 862.5,567.6 869.3,573.8 875.0,564.3 880.8,570.6 886.8,557.0 892.5,559.6 901.3,560.6 910.1,563.3 916.3,568.1 928.9,567.6 933.4,565.8 938.9,567.6 945.1,571.3 956.4,571.3 961.9,567.6 968.4,584.3 978.9,584.3 985.2,583.1 992.7,575.6 1000.0,572.5 1004.1,571.5 1010.4,571.5 1012.4,570.2 1016.1,570.2 1019.7,572.5 1023.3,572.5 1029.0,570.2 1038.3,570.2 1044.6,574.8 1051.8,572.0 1060.1,568.3 1066.3,568.3 1068.4,570.9 1073.4,580.6 1079.8,575.1 1082.9,574.4 1091.2,574.4 1094.3,575.4 1097.4,575.4 1103.6,571.2 1107.8,573.0 1109.8,575.1 1114.0,580.8" fill="none" stroke="#4a86e8" stroke-width="1.0" />
<polyline points="152.5,645.8 160.0,637.1 170.0,629.6 182.6,622.1 200.1,614.5 217.6,609.0 232.6,606.5 245.2,606.5 257.7,610.3 270.2,610.3 282.7,610.8 290.2,614.0 297.8,619.0 305.3,620.3 312.8,620.0 320.3,617.5 325.3,615.0 335.3,613.3 345.3,609.5 355.4,606.3 365.4,603.8 375.4,604.0 387.9,605.0 400.4,605.8 413.0,607.5 425.5,609.0 435.5,610.0 438.0,611.5 448.0,617.0 459.3,625.8 465.5,627.6 473.1,633.3 481.8,635.3 488.1,634.1 495.6,628.3 505.6,619.0 513.1,616.3 525.7,615.0 540.7,612.5 548.2,615.8 560.7,623.3 573.2,629.6 585.8,631.3 600.8,631.6 610.8,635.1 623.3,642.6 628.3,642.6 635.8,639.1 650.9,636.3 663.4,632.6 675.9,629.6 693.4,629.6 703.5,637.1 713.5,643.3 723.5,648.8 726.0,648.3 738.5,650.4 766.1,652.1 826.2,652.1 838.7,650.9 856.2,649.1 868.7,646.6 881.3,646.3 896.3,635.8 910.1,627.6 921.3,626.3 931.4,628.3 940.1,628.8 946.4,634.6 961.4,640.3 976.4,645.3 989.0,647.6 999.0,648.3 1000.0,648.5 1010.4,648.5 1011.4,647.4 1029.0,647.4 1030.1,648.5 1085.0,648.5 1086.0,647.6 1101.6,647.6 1102.6,648.5 1114.0,648.5" fill="none" stroke="#108010" stroke-width="1.05" />
<polyline points="152.5,645.8 157.5,635.8 165.0,623.3 172.5,614.5 180.1,608.3 190.1,603.8 200.1,601.5 207.6,602.0 215.6,602.5 221.4,608.3 225.1,617.0 230.1,624.6 238.9,633.3 245.2,634.1 250.2,640.8 255.7,648.3 261.4,645.8 266.5,637.1 272.7,627.1 280.2,617.0 284.0,612.0 290.2,615.0 296.5,621.6 301.5,619.5 307.8,613.3 314.0,610.0 322.8,611.3 330.3,611.3 340.3,607.0 350.4,603.8 355.4,603.8 361.6,608.3 367.9,618.3 372.9,627.1 377.9,627.6 384.2,625.3 392.9,628.3 400.4,627.8 408.0,629.6 413.0,625.8 419.2,617.0 425.5,610.8 430.5,609.0 435.5,612.0 438.0,615.0 443.0,624.6 449.3,635.8 454.3,644.6 459.3,649.1 476.8,649.1 483.1,642.1 490.6,628.3 498.1,615.8 505.6,607.0 513.1,603.8 520.6,603.8 528.2,606.3 536.9,610.0 543.2,618.3 548.2,628.3 554.5,639.6 560.7,647.1 565.7,649.6 572.0,649.1 580.7,643.3 588.3,638.3 595.8,630.8 603.3,618.3 612.1,602.5 615.8,604.5 623.3,613.3 629.6,611.3 640.9,611.3 645.9,617.0 653.4,627.1 660.9,632.1 670.9,637.6 675.9,635.8 680.9,637.6 687.2,646.6 693.4,648.1 713.5,648.3 723.5,649.1 726.0,648.3 733.5,647.1 741.0,647.8 763.6,647.6 771.1,650.9 778.6,652.1 806.1,652.1 813.7,650.1 822.4,647.1 828.7,643.3 836.2,635.8 846.2,622.8 851.2,621.3 858.2,612.5 862.5,613.3 868.7,618.3 876.3,629.6 880.8,633.3 888.8,627.1 898.8,618.3 906.3,612.5 910.8,611.5 916.3,619.5 923.8,628.3 931.4,633.3 938.9,636.6 945.1,642.1 950.9,651.6 976.4,651.6 986.5,652.6 996.5,647.1 1000.0,642.8 1005.2,633.5 1010.4,625.2 1015.5,615.3 1020.7,615.3 1025.9,621.0 1031.1,622.6 1034.2,625.2 1039.4,631.4 1044.6,637.6 1050.8,646.4 1056.0,649.0 1059.1,650.2 1069.4,650.2 1071.5,651.6 1079.8,651.6 1082.9,648.5 1086.0,645.9 1091.2,643.6 1096.4,642.3 1101.6,638.4 1103.6,637.4 1106.7,637.4 1108.8,636.6 1111.4,637.6 1114.0,638.4" fill="none" stroke="#ff1480" stroke-width="1.05" />
<g shape-rendering="crispEdges">
<rect x="9.5" y="711.3" width="3.5" height="2.5" fill="#7b7b83"/>
<rect x="15.3" y="711.3" width="3.5" height="2.5" fill="#7b7b83"/>
<rect x="21.2" y="707.1" width="3.5" height="6.7" fill="#7b7b83"/>
<rect x="27.0" y="709.5" width="3.5" height="4.3" fill="#7b7b83"/>
<rect x="32.9" y="709.5" width="3.5" height="4.3" fill="#7b7b83"/>
<rect x="38.7" y="708.1" width="3.5" height="5.7" fill="#7b7b83"/>
<rect x="44.5" y="701.2" width="3.5" height="12.6" fill="#7b7b83"/>
<rect x="50.4" y="704.1" width="3.5" height="9.7" fill="#7b7b83"/>
<rect x="56.2" y="710.2" width="3.5" height="3.6" fill="#7b7b83"/>
<rect x="62.1" y="708.9" width="3.5" height="4.9" fill="#7b7b83"/>
<rect x="67.9" y="708.9" width="3.5" height="4.9" fill="#7b7b83"/>
<rect x="73.7" y="705.1" width="3.5" height="8.7" fill="#7b7b83"/>
<rect x="79.6" y="704.1" width="3.5" height="9.7" fill="#7b7b83"/>
<rect x="85.4" y="706.5" width="3.5" height="7.3" fill="#7b7b83"/>
<rect x="91.3" y="708.1" width="3.5" height="5.7" fill="#7b7b83"/>
<rect x="97.1" y="706.9" width="3.5" height="6.9" fill="#7b7b83"/>
<rect x="102.9" y="708.9" width="3.5" height="4.9" fill="#7b7b83"/>
<rect x="108.8" y="706.5" width="3.5" height="7.3" fill="#7b7b83"/>
<rect x="114.6" y="707.1" width="3.5" height="6.7" fill="#7b7b83"/>
<rect x="120.4" y="707.8" width="3.5" height="6.0" fill="#7b7b83"/>
<rect x="126.3" y="709.9" width="3.5" height="3.9" fill="#7b7b83"/>
<rect x="132.1" y="708.1" width="3.5" height="5.7" fill="#7b7b83"/>
<rect x="138.0" y="708.1" width="3.5" height="5.7" fill="#7b7b83"/>
<rect x="143.8" y="707.8" width="3.5" height="6.0" fill="#7b7b83"/>
<rect x="149.6" y="707.8" width="3.5" height="6.0" fill="#7b7b83"/>
<rect x="155.5" y="683.0" width="3.5" height="30.8" fill="#7b7b83"/>
<rect x="161.3" y="689.3" width="3.5" height="24.5" fill="#7b7b83"/>
<rect x="167.2" y="700.1" width="3.5" height="13.7" fill="#7b7b83"/>
<rect x="173.0" y="697.6" width="3.5" height="16.2" fill="#7b7b83"/>
<rect x="178.8" y="700.1" width="3.5" height="13.7" fill="#7b7b83"/>
<rect x="184.7" y="702.1" width="3.5" height="11.7" fill="#7b7b83"/>
<rect x="190.5" y="693.8" width="3.5" height="20.0" fill="#7b7b83"/>
<rect x="196.4" y="697.1" width="3.5" height="16.7" fill="#7b7b83"/>
<rect x="202.2" y="703.8" width="3.5" height="10.0" fill="#7b7b83"/>
<rect x="208.0" y="702.1" width="3.5" height="11.7" fill="#7b7b83"/>
<rect x="213.9" y="700.8" width="3.5" height="13.0" fill="#7b7b83"/>
<rect x="219.7" y="706.3" width="3.5" height="7.5" fill="#7b7b83"/>
<rect x="225.6" y="700.8" width="3.5" height="13.0" fill="#7b7b83"/>
<rect x="231.4" y="706.3" width="3.5" height="7.5" fill="#7b7b83"/>
<rect x="237.2" y="708.8" width="3.5" height="5.0" fill="#7b7b83"/>
<rect x="243.1" y="708.1" width="3.5" height="5.7" fill="#7b7b83"/>
<rect x="248.9" y="706.8" width="3.5" height="7.0" fill="#7b7b83"/>
<rect x="254.8" y="706.8" width="3.5" height="7.0" fill="#7b7b83"/>
<rect x="260.6" y="707.6" width="3.5" height="6.2" fill="#7b7b83"/>
<rect x="266.4" y="702.1" width="3.5" height="11.7" fill="#7b7b83"/>
<rect x="272.3" y="706.8" width="3.5" height="7.0" fill="#7b7b83"/>
<rect x="278.1" y="709.6" width="3.5" height="4.2" fill="#7b7b83"/>
<rect x="283.9" y="708.8" width="3.5" height="5.0" fill="#7b7b83"/>
<rect x="289.8" y="705.1" width="3.5" height="8.7" fill="#7b7b83"/>
<rect x="295.6" y="703.1" width="3.5" height="10.7" fill="#7b7b83"/>
<rect x="301.5" y="707.6" width="3.5" height="6.2" fill="#7b7b83"/>
<rect x="307.3" y="703.1" width="3.5" height="10.7" fill="#7b7b83"/>
<rect x="313.1" y="702.1" width="3.5" height="11.7" fill="#7b7b83"/>
<rect x="319.0" y="708.1" width="3.5" height="5.7" fill="#7b7b83"/>
<rect x="324.8" y="712.1" width="3.5" height="1.7" fill="#7b7b83"/>
<rect x="330.7" y="710.1" width="3.5" height="3.7" fill="#7b7b83"/>
<rect x="336.5" y="712.1" width="3.5" height="1.7" fill="#7b7b83"/>
<rect x="342.3" y="711.3" width="3.5" height="2.5" fill="#7b7b83"/>
<rect x="348.2" y="706.3" width="3.5" height="7.5" fill="#7b7b83"/>
<rect x="354.0" y="710.1" width="3.5" height="3.7" fill="#7b7b83"/>
<rect x="359.9" y="711.3" width="3.5" height="2.5" fill="#7b7b83"/>
<rect x="365.7" y="710.1" width="3.5" height="3.7" fill="#7b7b83"/>
<rect x="371.5" y="708.8" width="3.5" height="5.0" fill="#7b7b83"/>
<rect x="377.4" y="710.6" width="3.5" height="3.2" fill="#7b7b83"/>
<rect x="383.2" y="713.1" width="3.5" height="0.7" fill="#7b7b83"/>
<rect x="389.1" y="712.1" width="3.5" height="1.7" fill="#7b7b83"/>
<rect x="394.9" y="710.6" width="3.5" height="3.2" fill="#7b7b83"/>
<rect x="400.7" y="711.3" width="3.5" height="2.5" fill="#7b7b83"/>
<rect x="406.6" y="711.3" width="3.5" height="2.5" fill="#7b7b83"/>
<rect x="412.4" y="712.1" width="3.5" height="1.7" fill="#7b7b83"/>
<rect x="418.3" y="712.1" width="3.5" height="1.7" fill="#7b7b83"/>
<rect x="424.1" y="712.6" width="3.5" height="1.2" fill="#7b7b83"/>
<rect x="429.9" y="712.1" width="3.5" height="1.7" fill="#7b7b83"/>
<rect x="435.8" y="712.6" width="3.5" height="1.2" fill="#7b7b83"/>
<rect x="441.6" y="712.9" width="3.5" height="0.9" fill="#7b7b83"/>
<rect x="447.4" y="712.9" width="3.5" height="0.9" fill="#7b7b83"/>
<rect x="453.3" y="712.9" width="3.5" height="0.9" fill="#7b7b83"/>
<rect x="459.1" y="712.9" width="3.5" height="0.9" fill="#7b7b83"/>
<rect x="465.0" y="712.9" width="3.5" height="0.9" fill="#7b7b83"/>
<rect x="470.8" y="712.9" width="3.5" height="0.9" fill="#7b7b83"/>
<rect x="476.6" y="712.9" width="3.5" height="0.9" fill="#7b7b83"/>
<rect x="482.5" y="712.6" width="3.5" height="1.2" fill="#7b7b83"/>
<rect x="488.3" y="711.3" width="3.5" height="2.5" fill="#7b7b83"/>
<rect x="494.2" y="710.1" width="3.5" height="3.7" fill="#7b7b83"/>
<rect x="500.0" y="710.1" width="3.5" height="3.7" fill="#7b7b83"/>
<rect x="505.8" y="712.1" width="3.5" height="1.7" fill="#7b7b83"/>
<rect x="511.7" y="713.1" width="3.5" height="0.7" fill="#7b7b83"/>
<rect x="517.5" y="712.1" width="3.5" height="1.7" fill="#7b7b83"/>
<rect x="523.4" y="711.3" width="3.5" height="2.5" fill="#7b7b83"/>
<rect x="529.2" y="712.6" width="3.5" height="1.2" fill="#7b7b83"/>
<rect x="535.0" y="712.6" width="3.5" height="1.2" fill="#7b7b83"/>
<rect x="540.9" y="712.1" width="3.5" height="1.7" fill="#7b7b83"/>
<rect x="546.7" y="708.1" width="3.5" height="5.7" fill="#7b7b83"/>
<rect x="552.6" y="705.1" width="3.5" height="8.7" fill="#7b7b83"/>
<rect x="558.4" y="708.8" width="3.5" height="5.0" fill="#7b7b83"/>
<rect x="564.2" y="710.6" width="3.5" height="3.2" fill="#7b7b83"/>
<rect x="570.1" y="710.6" width="3.5" height="3.2" fill="#7b7b83"/>
<rect x="575.9" y="712.1" width="3.5" height="1.7" fill="#7b7b83"/>
<rect x="581.8" y="709.6" width="3.5" height="4.2" fill="#7b7b83"/>
<rect x="587.6" y="712.1" width="3.5" height="1.7" fill="#7b7b83"/>
<rect x="593.4" y="711.3" width="3.5" height="2.5" fill="#7b7b83"/>
<rect x="599.3" y="712.1" width="3.5" height="1.7" fill="#7b7b83"/>
<rect x="610.9" y="711.3" width="3.5" height="2.5" fill="#7b7b83"/>
<rect x="616.8" y="688.1" width="3.5" height="25.7" fill="#7b7b83"/>
<rect x="622.6" y="701.8" width="3.5" height="12.0" fill="#7b7b83"/>
<rect x="628.5" y="693.1" width="3.5" height="20.7" fill="#7b7b83"/>
<rect x="634.3" y="660.0" width="3.5" height="53.8" fill="#7b7b83"/>
<rect x="640.1" y="680.8" width="3.5" height="33.0" fill="#7b7b83"/>
<rect x="646.0" y="688.3" width="3.5" height="25.5" fill="#7b7b83"/>
<rect x="651.8" y="697.6" width="3.5" height="16.2" fill="#7b7b83"/>
<rect x="657.7" y="699.3" width="3.5" height="14.5" fill="#7b7b83"/>
<rect x="663.5" y="695.1" width="3.5" height="18.7" fill="#7b7b83"/>
<rect x="669.3" y="700.8" width="3.5" height="13.0" fill="#7b7b83"/>
<rect x="675.2" y="703.8" width="3.5" height="10.0" fill="#7b7b83"/>
<rect x="681.0" y="705.1" width="3.5" height="8.7" fill="#7b7b83"/>
<rect x="686.9" y="695.8" width="3.5" height="18.0" fill="#7b7b83"/>
<rect x="692.7" y="702.1" width="3.5" height="11.7" fill="#7b7b83"/>
<rect x="698.5" y="700.1" width="3.5" height="13.7" fill="#7b7b83"/>
<rect x="704.4" y="693.8" width="3.5" height="20.0" fill="#7b7b83"/>
<rect x="710.2" y="703.8" width="3.5" height="10.0" fill="#7b7b83"/>
<rect x="716.1" y="700.8" width="3.5" height="13.0" fill="#7b7b83"/>
<rect x="721.9" y="703.1" width="3.5" height="10.7" fill="#7b7b83"/>
<rect x="727.7" y="706.3" width="3.5" height="7.5" fill="#7b7b83"/>
<rect x="733.6" y="695.1" width="3.5" height="18.7" fill="#7b7b83"/>
<rect x="739.4" y="698.1" width="3.5" height="15.7" fill="#7b7b83"/>
<rect x="745.3" y="700.8" width="3.5" height="13.0" fill="#7b7b83"/>
<rect x="751.1" y="702.1" width="3.5" height="11.7" fill="#7b7b83"/>
<rect x="756.9" y="697.1" width="3.5" height="16.7" fill="#7b7b83"/>
<rect x="762.8" y="697.1" width="3.5" height="16.7" fill="#7b7b83"/>
<rect x="768.6" y="682.0" width="3.5" height="31.8" fill="#7b7b83"/>
<rect x="774.4" y="660.0" width="3.5" height="53.8" fill="#7b7b83"/>
<rect x="780.3" y="667.0" width="3.5" height="46.8" fill="#7b7b83"/>
<rect x="786.1" y="691.3" width="3.5" height="22.5" fill="#7b7b83"/>
<rect x="792.0" y="677.0" width="3.5" height="36.8" fill="#7b7b83"/>
<rect x="797.8" y="683.0" width="3.5" height="30.8" fill="#7b7b83"/>
<rect x="803.6" y="680.8" width="3.5" height="33.0" fill="#7b7b83"/>
<rect x="809.5" y="693.1" width="3.5" height="20.7" fill="#7b7b83"/>
<rect x="815.3" y="702.1" width="3.5" height="11.7" fill="#7b7b83"/>
<rect x="821.2" y="699.3" width="3.5" height="14.5" fill="#7b7b83"/>
<rect x="827.0" y="705.1" width="3.5" height="8.7" fill="#7b7b83"/>
<rect x="832.8" y="708.8" width="3.5" height="5.0" fill="#7b7b83"/>
<rect x="838.7" y="707.1" width="3.5" height="6.7" fill="#7b7b83"/>
<rect x="844.5" y="704.6" width="3.5" height="9.2" fill="#7b7b83"/>
<rect x="850.4" y="706.8" width="3.5" height="7.0" fill="#7b7b83"/>
<rect x="856.2" y="705.1" width="3.5" height="8.7" fill="#7b7b83"/>
<rect x="862.0" y="705.1" width="3.5" height="8.7" fill="#7b7b83"/>
<rect x="867.9" y="710.1" width="3.5" height="3.7" fill="#7b7b83"/>
<rect x="873.7" y="708.1" width="3.5" height="5.7" fill="#7b7b83"/>
<rect x="879.6" y="667.0" width="3.5" height="46.8" fill="#7b7b83"/>
<rect x="885.4" y="678.0" width="3.5" height="35.8" fill="#7b7b83"/>
<rect x="891.2" y="692.6" width="3.5" height="21.2" fill="#7b7b83"/>
<rect x="897.1" y="691.8" width="3.5" height="22.0" fill="#7b7b83"/>
<rect x="902.9" y="698.8" width="3.5" height="15.0" fill="#7b7b83"/>
<rect x="908.8" y="703.1" width="3.5" height="10.7" fill="#7b7b83"/>
<rect x="914.6" y="697.6" width="3.5" height="16.2" fill="#7b7b83"/>
<rect x="920.4" y="701.8" width="3.5" height="12.0" fill="#7b7b83"/>
<rect x="926.3" y="703.1" width="3.5" height="10.7" fill="#7b7b83"/>
<rect x="932.1" y="703.1" width="3.5" height="10.7" fill="#7b7b83"/>
<rect x="937.9" y="706.3" width="3.5" height="7.5" fill="#7b7b83"/>
<rect x="943.8" y="700.6" width="3.5" height="13.2" fill="#7b7b83"/>
<rect x="949.6" y="691.3" width="3.5" height="22.5" fill="#7b7b83"/>
<rect x="955.5" y="698.1" width="3.5" height="15.7" fill="#7b7b83"/>
<rect x="961.3" y="697.1" width="3.5" height="16.7" fill="#7b7b83"/>
<rect x="967.1" y="699.6" width="3.5" height="14.2" fill="#7b7b83"/>
<rect x="973.0" y="699.6" width="3.5" height="14.2" fill="#7b7b83"/>
<rect x="978.8" y="702.1" width="3.5" height="11.7" fill="#7b7b83"/>
<rect x="984.7" y="693.1" width="3.5" height="20.7" fill="#7b7b83"/>
<rect x="990.5" y="695.8" width="3.5" height="18.0" fill="#7b7b83"/>
<rect x="996.3" y="697.6" width="3.5" height="16.2" fill="#7b7b83"/>
<rect x="1002.2" y="698.0" width="3.5" height="15.8" fill="#7b7b83"/>
<rect x="1008.0" y="703.2" width="3.5" height="10.6" fill="#7b7b83"/>
<rect x="1013.9" y="701.1" width="3.5" height="12.7" fill="#7b7b83"/>
<rect x="1019.7" y="701.1" width="3.5" height="12.7" fill="#7b7b83"/>
<rect x="1025.5" y="699.6" width="3.5" height="14.2" fill="#7b7b83"/>
<rect x="1031.4" y="695.2" width="3.5" height="18.6" fill="#7b7b83"/>
<rect x="1037.2" y="699.6" width="3.5" height="14.2" fill="#7b7b83"/>
<rect x="1043.1" y="694.2" width="3.5" height="19.6" fill="#7b7b83"/>
<rect x="1048.9" y="697.5" width="3.5" height="16.3" fill="#7b7b83"/>
<rect x="1054.7" y="693.1" width="3.5" height="20.7" fill="#7b7b83"/>
<rect x="1060.6" y="693.1" width="3.5" height="20.7" fill="#7b7b83"/>
<rect x="1066.4" y="697.5" width="3.5" height="16.3" fill="#7b7b83"/>
<rect x="1072.3" y="692.1" width="3.5" height="21.7" fill="#7b7b83"/>
<rect x="1078.1" y="690.0" width="3.5" height="23.8" fill="#7b7b83"/>
<rect x="1083.9" y="689.0" width="3.5" height="24.8" fill="#7b7b83"/>
<rect x="1089.8" y="681.1" width="3.5" height="32.7" fill="#7b7b83"/>
<rect x="1095.6" y="692.8" width="3.5" height="21.0" fill="#7b7b83"/>
<rect x="1107.3" y="705.1" width="3.5" height="8.7" fill="#7b7b83"/>
</g>
<polyline points="9.3,709.5 34.4,709.5 38.5,708.9 45.5,707.6 51.0,706.2 70.3,706.5 82.8,706.5 86.9,707.1 109.0,707.1 114.5,707.6 128.4,707.8 133.9,708.5 139.4,707.6 150.5,707.6 150.0,707.6 157.5,701.3 167.5,698.1 182.6,695.6 192.6,698.1 202.6,700.1 217.6,700.6 225.1,703.8 235.1,705.1 250.2,706.3 260.2,706.8 267.7,705.8 280.2,706.3 290.2,707.6 307.8,707.1 315.3,705.1 322.8,705.8 332.8,707.6 345.3,708.8 355.4,710.1 365.4,708.8 375.4,708.8 385.4,710.6 400.4,711.3 413.0,713.1 425.5,713.1 438.0,712.6 438.0,712.4 488.1,712.1 495.6,711.3 520.6,711.3 528.2,712.1 543.2,712.1 550.7,710.6 563.2,709.6 575.7,708.8 583.3,710.1 613.3,710.6 618.3,707.6 628.3,703.8 635.8,693.8 645.9,685.6 664.6,686.3 670.9,692.6 680.9,698.8 688.4,700.6 698.5,701.3 706.0,700.1 718.5,700.1 726.0,700.8 726.0,701.3 751.0,700.8 768.6,697.1 781.1,684.6 791.1,680.0 798.6,676.8 805.6,676.8 813.7,685.1 823.7,690.1 833.7,697.6 843.7,703.8 851.2,705.1 861.2,705.1 866.2,706.3 875.0,706.3 881.3,700.1 888.8,695.1 898.8,690.6 910.1,688.1 918.8,695.6 926.4,698.8 936.4,701.8 943.9,702.1 951.4,700.8 963.9,699.6 973.9,697.6 999.0,697.6 1000.0,697.5 1015.5,697.5 1021.8,699.6 1040.4,699.6 1043.5,698.0 1051.8,697.0 1057.0,695.2 1071.5,695.2 1074.6,694.4 1080.8,693.9 1086.0,692.3 1091.2,690.5 1097.4,690.5 1102.6,693.9 1104.7,693.9" fill="none" stroke="#c81818" stroke-width="1.05" />
<polyline points="9.3,708.9 34.4,708.9 38.5,709.5 45.5,708.1 70.3,708.1 73.1,706.7 114.5,706.7 118.7,707.6 150.5,707.6 150.0,708.1 162.5,703.8 180.1,702.1 195.1,700.1 207.6,698.8 222.6,698.8 232.6,701.3 250.2,703.3 262.7,704.6 280.2,706.3 300.3,706.8 315.3,706.3 330.3,706.8 350.4,708.1 375.4,708.8 390.4,710.1 415.5,710.6 425.5,712.1 438.0,712.1 438.0,712.6 488.1,712.6 500.6,711.8 538.2,712.6 563.2,710.6 588.3,710.6 613.3,710.1 620.8,708.1 630.8,706.3 638.4,702.6 645.9,698.8 655.9,696.3 668.4,693.8 682.2,692.6 698.5,693.8 708.5,697.6 718.5,700.1 726.0,701.3 726.0,700.8 768.6,698.8 776.1,695.1 786.1,691.3 798.6,687.6 806.1,685.6 826.2,685.6 836.2,687.6 851.2,695.1 866.2,700.1 876.3,704.3 883.8,701.3 896.3,698.8 911.3,697.1 926.4,696.3 943.9,695.1 951.4,697.6 963.9,699.6 976.4,698.8 999.0,698.1 1000.0,698.0 1015.5,697.5 1018.7,698.5 1041.5,698.5 1051.8,697.5 1071.5,697.0 1082.9,694.9 1089.1,693.5 1096.4,693.1 1098.4,692.3 1102.1,694.4 1107.8,694.9 1111.9,692.8 1114.0,691.3" fill="none" stroke="#5a5ae6" stroke-width="1.05" />
</g>
<polygon points="1106,98.4 1110.8,95.60000000000001 1110.8,101.2" fill="#8c8c8c"/>
<polygon points="1106,511.7 1110.8,508.9 1110.8,514.5" fill="#8c8c8c"/>
<polygon points="1106,538 1110.8,535.2 1110.8,540.8" fill="#8c8c8c"/>
<polygon points="1106,592.2 1110.8,589.4000000000001 1110.8,595.0" fill="#8c8c8c"/>
<polygon points="1106,599.3 1110.8,596.5 1110.8,602.0999999999999" fill="#8c8c8c"/>
<polygon points="1106,653.7 1110.8,650.9000000000001 1110.8,656.5" fill="#8c8c8c"/>
<polygon points="1106,660 1110.8,657.2 1110.8,662.8" fill="#8c8c8c"/>
<rect x="6.6" y="6.4" width="17" height="17.2" fill="#8a8a8a"/>
<rect x="7.6" y="7.4" width="15" height="15.2" fill="#000"/>
<rect x="8.4" y="10" width="1.3" height="5" fill="#ff3030"/>
<rect x="10.4" y="11" width="1.3" height="6" fill="#10b020"/>
<rect x="12.4" y="14" width="1.3" height="4" fill="#10a020"/>
<rect x="14.4" y="12" width="1.3" height="3" fill="#ff3030"/>
<rect x="16.4" y="11" width="1.3" height="2" fill="#ff3030"/>
<rect x="18.4" y="12" width="1.3" height="3" fill="#10b020"/>
<rect x="20.4" y="8" width="1.3" height="5" fill="#ff4040"/>
<polygon points="8.2,21.8 8.2,20.5 9.2,18 10.2,19.5 11.2,18.8 12.2,20 13.2,20.5 14.4,19.5 16,17.5 17.2,15.8 18,16.5 18.6,19 19.6,18.5 20.4,20 21.2,17 22,17.5 22,21.8" fill="#ffff30"/>
<text x="26.3" y="19.8" font-size="13" fill="#fff" font-weight="bold" textLength="41.3" lengthAdjust="spacingAndGlyphs" >チャート:</text>
<text x="71.4" y="19.8" font-size="13" fill="#fff" font-weight="bold" textLength="58.8" lengthAdjust="spacingAndGlyphs" >111.2603/O</text>
<circle cx="1063.3" cy="13.6" r="7.6" fill="#c8ccd4"/>
<text x="1063.3" y="18.2" font-size="13" fill="#222" text-anchor="middle" font-weight="bold" >?</text>
<rect x="1078" y="7.3" width="55.5" height="13.6" fill="#ff0808"/>
<polygon points="1079.5,8.2 1090,8.2 1079.5,18.5" fill="#ff8080"/>
<text x="1094" y="18.4" font-size="10.8" fill="#f0e020" font-weight="bold" textLength="24.2" lengthAdjust="spacingAndGlyphs" >HOT</text>
<text x="1119.3" y="20.2" font-size="17" fill="#f0e020" font-weight="bold" textLength="7.4" lengthAdjust="spacingAndGlyphs" >1</text>
<rect x="1135.6" y="7.4" width="14.4" height="14" fill="#2c2c2c"/>
<rect x="1136.2" y="8" width="13" height="12.8" fill="url(#cb)"/>
<path d="M1139 10.4 L1146.6 18.6 M1146.6 10.4 L1139 18.6" stroke="#5c4a3c" stroke-width="2" fill="none"/>
<rect x="10" y="27.8" width="103" height="17.4" fill="#fff"/>
<text x="16" y="41.2" font-size="12" fill="#000" textLength="56" lengthAdjust="spacingAndGlyphs" >111.2603/O</text>
<rect x="113.2" y="28" width="15.8" height="17" fill="#e6e6e6" stroke="#b0b0b0" stroke-width="0.6"/>
<polygon points="117.5,35 125,35 121.2,39" fill="#000"/>
<text x="136" y="41" font-size="12.5" fill="#fff" textLength="22.5" lengthAdjust="spacingAndGlyphs" >日経</text>
<text x="159.6" y="41" font-size="12" fill="#fff" class="mono" textLength="55.2" lengthAdjust="spacingAndGlyphs" >225mini 03</text>
<text x="1027.5" y="41" font-size="12.5" fill="#fff" textLength="57" lengthAdjust="spacingAndGlyphs" >大阪日通し</text>
<text x="1097.5" y="41" font-size="12.5" fill="#d8d8d8" class="mono" textLength="46.8" lengthAdjust="spacingAndGlyphs" >26/03/04</text>
<rect x="8.8" y="51" width="2" height="2" fill="#0a0a0a"/><rect x="9.8" y="52" width="1.6" height="1.6" fill="#8a8a8a"/><rect x="8.8" y="55" width="2" height="2" fill="#0a0a0a"/><rect x="9.8" y="56" width="1.6" height="1.6" fill="#8a8a8a"/><rect x="8.8" y="59" width="2" height="2" fill="#0a0a0a"/><rect x="9.8" y="60" width="1.6" height="1.6" fill="#8a8a8a"/><rect x="8.8" y="63" width="2" height="2" fill="#0a0a0a"/><rect x="9.8" y="64" width="1.6" height="1.6" fill="#8a8a8a"/>
<rect x="180.8" y="51" width="2" height="2" fill="#0a0a0a"/><rect x="181.8" y="52" width="1.6" height="1.6" fill="#8a8a8a"/><rect x="180.8" y="55" width="2" height="2" fill="#0a0a0a"/><rect x="181.8" y="56" width="1.6" height="1.6" fill="#8a8a8a"/><rect x="180.8" y="59" width="2" height="2" fill="#0a0a0a"/><rect x="181.8" y="60" width="1.6" height="1.6" fill="#8a8a8a"/><rect x="180.8" y="63" width="2" height="2" fill="#0a0a0a"/><rect x="181.8" y="64" width="1.6" height="1.6" fill="#8a8a8a"/>
<rect x="236.8" y="51" width="2" height="2" fill="#0a0a0a"/><rect x="237.8" y="52" width="1.6" height="1.6" fill="#8a8a8a"/><rect x="236.8" y="55" width="2" height="2" fill="#0a0a0a"/><rect x="237.8" y="56" width="1.6" height="1.6" fill="#8a8a8a"/><rect x="236.8" y="59" width="2" height="2" fill="#0a0a0a"/><rect x="237.8" y="60" width="1.6" height="1.6" fill="#8a8a8a"/><rect x="236.8" y="63" width="2" height="2" fill="#0a0a0a"/><rect x="237.8" y="64" width="1.6" height="1.6" fill="#8a8a8a"/>
<rect x="381.3" y="51" width="2" height="2" fill="#0a0a0a"/><rect x="382.3" y="52" width="1.6" height="1.6" fill="#8a8a8a"/><rect x="381.3" y="55" width="2" height="2" fill="#0a0a0a"/><rect x="382.3" y="56" width="1.6" height="1.6" fill="#8a8a8a"/><rect x="381.3" y="59" width="2" height="2" fill="#0a0a0a"/><rect x="382.3" y="60" width="1.6" height="1.6" fill="#8a8a8a"/><rect x="381.3" y="63" width="2" height="2" fill="#0a0a0a"/><rect x="382.3" y="64" width="1.6" height="1.6" fill="#8a8a8a"/>
<rect x="459.3" y="51" width="2" height="2" fill="#0a0a0a"/><rect x="460.3" y="52" width="1.6" height="1.6" fill="#8a8a8a"/><rect x="459.3" y="55" width="2" height="2" fill="#0a0a0a"/><rect x="460.3" y="56" width="1.6" height="1.6" fill="#8a8a8a"/><rect x="459.3" y="59" width="2" height="2" fill="#0a0a0a"/><rect x="460.3" y="60" width="1.6" height="1.6" fill="#8a8a8a"/><rect x="459.3" y="63" width="2" height="2" fill="#0a0a0a"/><rect x="460.3" y="64" width="1.6" height="1.6" fill="#8a8a8a"/>
<rect x="537.0999999999999" y="51" width="2" height="2" fill="#0a0a0a"/><rect x="538.0999999999999" y="52" width="1.6" height="1.6" fill="#8a8a8a"/><rect x="537.0999999999999" y="55" width="2" height="2" fill="#0a0a0a"/><rect x="538.0999999999999" y="56" width="1.6" height="1.6" fill="#8a8a8a"/><rect x="537.0999999999999" y="59" width="2" height="2" fill="#0a0a0a"/><rect x="538.0999999999999" y="60" width="1.6" height="1.6" fill="#8a8a8a"/><rect x="537.0999999999999" y="63" width="2" height="2" fill="#0a0a0a"/><rect x="538.0999999999999" y="64" width="1.6" height="1.6" fill="#8a8a8a"/>
<rect x="658.8" y="51" width="2" height="2" fill="#0a0a0a"/><rect x="659.8" y="52" width="1.6" height="1.6" fill="#8a8a8a"/><rect x="658.8" y="55" width="2" height="2" fill="#0a0a0a"/><rect x="659.8" y="56" width="1.6" height="1.6" fill="#8a8a8a"/><rect x="658.8" y="59" width="2" height="2" fill="#0a0a0a"/><rect x="659.8" y="60" width="1.6" height="1.6" fill="#8a8a8a"/><rect x="658.8" y="63" width="2" height="2" fill="#0a0a0a"/><rect x="659.8" y="64" width="1.6" height="1.6" fill="#8a8a8a"/>
<rect x="869.0999999999999" y="51" width="2" height="2" fill="#0a0a0a"/><rect x="870.0999999999999" y="52" width="1.6" height="1.6" fill="#8a8a8a"/><rect x="869.0999999999999" y="55" width="2" height="2" fill="#0a0a0a"/><rect x="870.0999999999999" y="56" width="1.6" height="1.6" fill="#8a8a8a"/><rect x="869.0999999999999" y="59" width="2" height="2" fill="#0a0a0a"/><rect x="870.0999999999999" y="60" width="1.6" height="1.6" fill="#8a8a8a"/><rect x="869.0999999999999" y="63" width="2" height="2" fill="#0a0a0a"/><rect x="870.0999999999999" y="64" width="1.6" height="1.6" fill="#8a8a8a"/>
<rect x="17" y="47.6" width="84.5" height="21.4" fill="#fff"/>
<text x="21" y="63" font-size="12.5" fill="#101830" textLength="39" lengthAdjust="spacingAndGlyphs" >ローソク</text>
<polygon points="91.5,57 98,57 94.8,60.6" fill="#000"/>
<rect x="104.5" y="47.6" width="68.5" height="21.4" fill="#fff"/>
<text x="108" y="63" font-size="12.5" fill="#101830" textLength="30" lengthAdjust="spacingAndGlyphs" >5分足</text>
<polygon points="163,57 169.5,57 166.2,60.6" fill="#000"/>
<rect x="190.8" y="50.8" width="16.2" height="16.2" fill="#20d8e0"/>
<rect x="192.60000000000002" y="52.599999999999994" width="12.6" height="12.6" fill="#ffffff"/>
<path d="M201.20000000000002 61.599999999999994 L204.8 65.0" stroke="#c03808" stroke-width="2.8"/>
<circle cx="197.4" cy="57.8" r="4.9" fill="#a0d4ff" stroke="#1030b0" stroke-width="1.5"/>
<circle cx="196.0" cy="56.199999999999996" r="1.5" fill="#e0f4ff"/>
<rect x="212.6" y="50.8" width="16.2" height="16.2" fill="#c6c6c6"/>
<path d="M216.29999999999998 50.8 V67.0 M212.6 56.4 H228.79999999999998" stroke="#0a5a10" stroke-width="1.2"/>
<rect x="247" y="50.8" width="16.2" height="16.2" fill="#c8c8c8"/>
<path d="M251.4 61.4 L258.6 54.4" stroke="#0a5a10" stroke-width="5.8" stroke-linecap="round"/>
<path d="M251.4 61.4 L258.6 54.4" stroke="#18cc28" stroke-width="4.2" stroke-linecap="round"/>
<polygon points="248.6,63.8 249.6,60.199999999999996 252.6,62.8" fill="#f0a0a0" stroke="#555" stroke-width="0.5"/>
<path d="M249.4 65.2 C253 66.8,255.5 62.3,258 63.199999999999996 S261 60.8,262 59.199999999999996" stroke="#222" stroke-width="1" fill="none"/>
<rect x="269" y="50.8" width="16.2" height="16.2" fill="#c0c0c0"/>
<path d="M272 63.8 L282 53.8" stroke="#000" stroke-width="2"/>
<polygon points="277.5,52.8 283.2,52.8 283.2,58.3" fill="#000"/><polygon points="271,59.3 271,65.0 276.5,65.0" fill="#000"/>
<circle cx="277.1" cy="58.9" r="2.3" fill="#fff" stroke="#000" stroke-width="0.8"/>
<rect x="291" y="50.8" width="16.2" height="16.2" fill="#c0c0c0"/>
<path d="M292 58.8 L300 51.3" stroke="#ff30ff" stroke-width="2.2"/>
<polygon points="297,54.3 297,65.3 299.8,62.8 301.8,66.6 303.6,65.6 301.8,62.0 305.2,61.8" fill="#000"/>
<rect x="312.7" y="50.8" width="16.2" height="16.2" fill="#c4c4c4"/>
<polygon points="316.7,59.0 321.9,55.8 326.09999999999997,55.8 321.3,59.0" fill="#2030f0"/>
<polygon points="321.3,59.0 326.09999999999997,55.8 326.09999999999997,58.8 321.3,62.199999999999996" fill="#101890"/>
<rect x="316.7" y="59.0" width="4.6" height="3.2" fill="#f8f8f8"/>
<rect x="334.8" y="50.8" width="16.2" height="16.2" fill="#c4c4c4"/>
<rect x="340.3" y="56.3" width="9.5" height="10" fill="#000"/>
<rect x="336.8" y="52.3" width="10" height="11.5" fill="#fff" stroke="#000" stroke-width="1.2"/>
<rect x="338.8" y="54.599999999999994" width="6" height="1" fill="#000"/>
<rect x="338.8" y="56.8" width="6" height="1" fill="#000"/>
<rect x="338.8" y="58.99999999999999" width="6" height="1" fill="#000"/>
<rect x="338.8" y="61.199999999999996" width="6" height="1" fill="#000"/>
<rect x="356.5" y="50.8" width="16.2" height="16.2" fill="#c4c4c4"/>
<polygon points="359.5,55.8 369.7,55.8 368.5,65.8 360.7,65.8" fill="#1890f0" stroke="#081830" stroke-width="0.9"/>
<rect x="358.5" y="53.599999999999994" width="12.2" height="2.2" fill="#1880e0" stroke="#081830" stroke-width="0.8"/><rect x="362.5" y="51.8" width="4.2" height="1.8" fill="#081830"/>
<rect x="361.7" y="57.3" width="0.9" height="7.2" fill="#0848a0"/>
<rect x="364.3" y="57.3" width="0.9" height="7.2" fill="#0848a0"/>
<rect x="366.9" y="57.3" width="0.9" height="7.2" fill="#0848a0"/>
<rect x="391" y="50.8" width="16.2" height="16.2" fill="#a8a8a8"/>
<polygon points="392.5,58.8 395.5,56.8 395.5,60.8" fill="#bcbcbc"/><polygon points="405.7,58.8 402.7,56.8 402.7,60.8" fill="#bcbcbc"/>
<rect x="398.6" y="50.8" width="1.1" height="16.2" fill="#000"/>
<rect x="397.3" y="54.4" width="3.7" height="8.2" fill="#fff" stroke="#000" stroke-width="1"/>
<rect x="413" y="50.8" width="16.2" height="16.2" fill="#a8a8a8"/>
<polygon points="414.5,58.8 417.5,56.8 417.5,60.8" fill="#bcbcbc"/><polygon points="427.7,58.8 424.7,56.8 424.7,60.8" fill="#bcbcbc"/>
<rect x="420.6" y="50.8" width="1.1" height="16.2" fill="#000"/>
<rect x="419.3" y="54.4" width="3.7" height="8.2" fill="#fff" stroke="#000" stroke-width="1"/>
<rect x="435" y="50.8" width="16.2" height="16.2" fill="#c4c4c4"/>
<text x="443.1" y="62.599999999999994" font-size="10" fill="#f01010" text-anchor="middle" font-weight="bold" textLength="13" lengthAdjust="spacingAndGlyphs" >ALL</text>
<rect x="468.7" y="50.8" width="16.2" height="16.2" fill="#c4c4c4"/>
<g transform="translate(476.8,58.9)"><rect x="-5.6" y="-5.6" width="11.2" height="11.2" fill="#906818" stroke="#402808" stroke-width="0.8"/><rect x="-5.6" y="-5.6" width="11.2" height="11.2" fill="#a07820" stroke="#402808" stroke-width="0.8" transform="rotate(45)"/><rect x="-2.6" y="-2.6" width="5.2" height="5.2" fill="#604010" transform="rotate(45)"/><circle r="1.2" fill="#d0b060"/></g>
<rect x="491" y="50.8" width="16.2" height="16.2" fill="#c4c4c4"/>
<path d="M494.6 63.599999999999994 L499.4 58.599999999999994" stroke="#801010" stroke-width="4.8" stroke-linecap="round"/>
<path d="M494.6 63.599999999999994 L499.4 58.599999999999994" stroke="#e82020" stroke-width="3.4" stroke-linecap="round"/>
<circle cx="501.8" cy="56.0" r="3.3" fill="#787878" stroke="#303030" stroke-width="0.7"/>
<polygon points="501.6,56.199999999999996 506.5,54.199999999999996 503.6,51.199999999999996" fill="#c4c4c4"/>
<rect x="513" y="50.8" width="16.2" height="16.2" fill="#c4c4c4"/>
<linearGradient id="rbg" x1="0" y1="0" x2="1" y2="1"><stop offset="0.02" stop-color="#ff1010"/><stop offset="0.2" stop-color="#ffa010"/><stop offset="0.34" stop-color="#f0f010"/><stop offset="0.5" stop-color="#20e020"/><stop offset="0.64" stop-color="#10d8e0"/><stop offset="0.8" stop-color="#2040ff"/><stop offset="0.98" stop-color="#e020f0"/></linearGradient>
<rect x="514.8" y="52.599999999999994" width="12.6" height="12.6" fill="url(#rbg)"/>
<rect x="546.6" y="50.8" width="16.2" height="16.2" fill="#f4f4f4"/>
<rect x="550.6" y="50.8" width="0.7" height="16.2" fill="#c0c0c0"/><rect x="546.6" y="54.8" width="16.2" height="0.7" fill="#c0c0c0"/>
<rect x="554.6" y="50.8" width="0.7" height="16.2" fill="#c0c0c0"/><rect x="546.6" y="58.8" width="16.2" height="0.7" fill="#c0c0c0"/>
<rect x="558.6" y="50.8" width="0.7" height="16.2" fill="#c0c0c0"/><rect x="546.6" y="62.8" width="16.2" height="0.7" fill="#c0c0c0"/>
<polyline points="547.6,59.8 550.6,62.8 554.6,65.3 557.6,59.8 561.6,53.3" stroke="#e02020" stroke-width="1" fill="none"/>
<rect x="553.2" y="51.8" width="3.4" height="5" fill="#000"/><polygon points="550.1,56.3 559.6,56.3 554.9,61.8" fill="#000"/>
<rect x="568.8" y="50.8" width="16.2" height="16.2" fill="#18c8d0"/><rect x="570.3" y="52.3" width="13.2" height="13.2" fill="#f0f8ff"/>
<circle cx="576.1999999999999" cy="58.199999999999996" r="5" fill="#fff" stroke="#1838c0" stroke-width="1.6"/>
<text x="576.1999999999999" y="61.8" font-size="9.5" fill="#e01010" text-anchor="middle" font-weight="bold" >2</text>
<path d="M579.8 61.8 L583.3 65.3" stroke="#000" stroke-width="2"/>
<rect x="591" y="50.8" width="16.2" height="16.2" fill="#18c8d0"/><rect x="592.5" y="52.3" width="13.2" height="13.2" fill="#f8fff8"/>
<rect x="594" y="53.199999999999996" width="2.8" height="6" fill="#f03838"/><rect x="601.6" y="53.199999999999996" width="2.8" height="6" fill="#f03838"/><rect x="595" y="52.8" width="0.8" height="9" fill="#c02020"/><rect x="602.6" y="52.8" width="0.8" height="9" fill="#c02020"/><rect x="598" y="57.8" width="2.3" height="4.6" fill="#10a030"/><rect x="593.2" y="63.0" width="3.8" height="1.6" fill="#000"/><rect x="597.6" y="63.0" width="3" height="1.6" fill="#000"/><rect x="601.2" y="63.0" width="3.8" height="1.6" fill="#000"/>
<rect x="613" y="50.8" width="16.2" height="16.2" fill="#18c8d0"/><rect x="614.5" y="52.3" width="13.2" height="13.2" fill="#fff8f8"/>
<text x="623.4" y="63.8" font-size="12.5" fill="#e01010" text-anchor="middle" font-weight="bold" >¥</text>
<polygon points="615,58.8 618.5,55.8 618.5,61.8" fill="#e01010"/><rect x="618" y="57.8" width="2.6" height="2" fill="#e01010"/>
<rect x="635" y="50.8" width="16.2" height="16.2" fill="#b4b4b4"/>
<polygon points="643.1,52.8 649.5,64.8 636.7,64.8" fill="#d8d8d8" stroke="#f0f0f0" stroke-width="1"/>
<rect x="642.4" y="56.8" width="1.5" height="4.5" fill="#808080"/><rect x="642.4" y="62.099999999999994" width="1.5" height="1.5" fill="#808080"/>
<rect x="669.2" y="50.8" width="16.2" height="16.2" fill="#2030e8"/><rect x="670.6" y="52.199999999999996" width="13.399999999999999" height="13.399999999999999" fill="#ffffff"/>
<text x="677.3000000000001" y="58.3" font-size="7.6" fill="#000080" text-anchor="middle" font-weight="bold" textLength="11.4" lengthAdjust="spacingAndGlyphs" >VW</text>
<text x="677.3000000000001" y="65.1" font-size="7.6" fill="#000080" text-anchor="middle" font-weight="bold" textLength="11.4" lengthAdjust="spacingAndGlyphs" >AP</text>
<rect x="691.4" y="50.8" width="16.2" height="16.2" fill="#2030e8"/><rect x="692.8" y="52.199999999999996" width="13.399999999999999" height="13.399999999999999" fill="#ffffff"/>
<text x="699.5" y="62.9" font-size="11" fill="#000080" text-anchor="middle" font-weight="bold" textLength="12" lengthAdjust="spacingAndGlyphs" >MA</text>
<rect x="713.2" y="50.8" width="16.2" height="16.2" fill="#2030e8"/><rect x="714.6" y="52.199999999999996" width="13.399999999999999" height="13.399999999999999" fill="#ffffff"/>
<text x="721.3000000000001" y="62.9" font-size="11" fill="#000080" text-anchor="middle" font-weight="bold" textLength="12" lengthAdjust="spacingAndGlyphs" >BB</text>
<rect x="735" y="50.8" width="16.2" height="16.2" fill="#000080"/>
<text x="743.1" y="62.9" font-size="11" fill="#fff" text-anchor="middle" font-weight="bold" textLength="12.8" lengthAdjust="spacingAndGlyphs" >MAE</text>
<rect x="756.7" y="50.8" width="16.2" height="16.2" fill="#000080"/>
<text x="764.8000000000001" y="62.9" font-size="11.5" fill="#fff" text-anchor="middle" font-weight="bold" textLength="11" lengthAdjust="spacingAndGlyphs" >HL</text>
<rect x="778.5" y="50.8" width="16.2" height="16.2" fill="#000080"/>
<text x="786.6" y="62.9" font-size="11" fill="#fff" text-anchor="middle" font-weight="bold" textLength="12.8" lengthAdjust="spacingAndGlyphs" >ATR</text>
<rect x="801" y="50.8" width="16.2" height="16.2" fill="#000080"/>
<text x="809.1" y="58.3" font-size="7.6" fill="#fff" text-anchor="middle" font-weight="bold" textLength="11.4" lengthAdjust="spacingAndGlyphs" >PA</text>
<text x="809.1" y="65.1" font-size="7.6" fill="#fff" text-anchor="middle" font-weight="bold" textLength="11.4" lengthAdjust="spacingAndGlyphs" >RA</text>
<rect x="822.7" y="50.8" width="16.2" height="16.2" fill="#000080"/>
<text x="830.8000000000001" y="62.9" font-size="11" fill="#fff" text-anchor="middle" font-weight="bold" textLength="12.8" lengthAdjust="spacingAndGlyphs" >PVT</text>
<rect x="845" y="50.8" width="16.2" height="16.2" fill="#08088c"/>
<rect x="847.5" y="53.3" width="11.2" height="10.2" fill="none" stroke="#fff" stroke-width="1.4"/><rect x="850.6" y="56.4" width="5" height="4" fill="none" stroke="#fff" stroke-width="1.2"/>
<rect x="878.8" y="50.8" width="16.2" height="16.2" fill="#c4bcc8"/>
<text x="886.9" y="62.4" font-size="10.5" fill="#900090" text-anchor="middle" font-weight="bold" textLength="13.4" lengthAdjust="spacingAndGlyphs" >Log</text>
<rect x="900.6" y="50.8" width="16.2" height="16.2" fill="#18c8d0"/><rect x="902.1" y="52.3" width="13.2" height="13.2" fill="#f4f4f4"/>
<rect x="909.6" y="52.3" width="0.9" height="13" fill="#e03030"/><rect x="909.6" y="59.4" width="5.5" height="0.9" fill="#e03030"/>
<rect x="902.1" y="54.199999999999996" width="4" height="4" fill="#000"/><polygon points="905.6,52.4 909.6,56.199999999999996 905.6,60.0" fill="#000"/><rect x="902.6" y="61.8" width="2.4" height="3.4" fill="#10a030"/>
<text x="1116.4" y="165.20000000000002" font-size="13" fill="#fff" class="mono" textLength="28.95" lengthAdjust="spacingAndGlyphs" >57500</text>
<text x="1116.4" y="246.6" font-size="13" fill="#fff" class="mono" textLength="28.95" lengthAdjust="spacingAndGlyphs" >57000</text>
<text x="1116.4" y="328.2" font-size="13" fill="#fff" class="mono" textLength="28.95" lengthAdjust="spacingAndGlyphs" >56500</text>
<text x="1116.4" y="491.2" font-size="13" fill="#fff" class="mono" textLength="28.95" lengthAdjust="spacingAndGlyphs" >55500</text>
<text x="1116.4" y="552.1999999999999" font-size="13" fill="#fff" class="mono" textLength="28.95" lengthAdjust="spacingAndGlyphs" >80.00</text>
<text x="1116.4" y="585.1999999999999" font-size="13" fill="#fff" class="mono" textLength="28.95" lengthAdjust="spacingAndGlyphs" >20.00</text>
<text x="1116.4" y="608.1999999999999" font-size="13" fill="#fff" class="mono" textLength="28.95" lengthAdjust="spacingAndGlyphs" >80.00</text>
<text x="1116.4" y="630.1" font-size="13" fill="#fff" class="mono" textLength="23.099999999999998" lengthAdjust="spacingAndGlyphs" >0.00</text>
<text x="1116.4" y="652.3" font-size="13" fill="#fff" class="mono" textLength="34.8" lengthAdjust="spacingAndGlyphs" >-80.00</text>
<text x="1116.4" y="682.6" font-size="13" fill="#fff" class="mono" textLength="28.95" lengthAdjust="spacingAndGlyphs" >10000</text>
<text x="1116.4" y="716.9" font-size="13" fill="#fff" class="mono" textLength="5.55" lengthAdjust="spacingAndGlyphs" >0</text>
<rect x="1115.6" y="399.2" width="34.6" height="16.2" fill="#ffff10" stroke="#1a1a1a" stroke-width="1"/>
<text x="1117.7" y="412" font-size="13" fill="#000" class="mono" textLength="28.8" lengthAdjust="spacingAndGlyphs" >55995</text>
<rect x="50.9" y="716.6" width="1.2" height="3" fill="#fff"/>
<text x="50.9" y="731.2" font-size="13" fill="#fff" text-anchor="middle" class="mono" textLength="11.5" lengthAdjust="spacingAndGlyphs" >22</text>
<rect x="120.9" y="716.6" width="1.2" height="3" fill="#fff"/>
<text x="120.9" y="731.2" font-size="13" fill="#fff" text-anchor="middle" class="mono" textLength="11.5" lengthAdjust="spacingAndGlyphs" >23</text>
<rect x="190.9" y="716.6" width="1.2" height="3" fill="#fff"/>
<text x="190.9" y="731.2" font-size="13" fill="#fff" text-anchor="middle" class="mono" textLength="5.6000000000000005" lengthAdjust="spacingAndGlyphs" >0</text>
<rect x="260.8" y="716.6" width="1.2" height="3" fill="#fff"/>
<text x="260.8" y="731.2" font-size="13" fill="#fff" text-anchor="middle" class="mono" textLength="5.6000000000000005" lengthAdjust="spacingAndGlyphs" >1</text>
<rect x="330.8" y="716.6" width="1.2" height="3" fill="#fff"/>
<text x="330.8" y="731.2" font-size="13" fill="#fff" text-anchor="middle" class="mono" textLength="5.6000000000000005" lengthAdjust="spacingAndGlyphs" >2</text>
<rect x="400.8" y="716.6" width="1.2" height="3" fill="#fff"/>
<text x="400.8" y="731.2" font-size="13" fill="#fff" text-anchor="middle" class="mono" textLength="5.6000000000000005" lengthAdjust="spacingAndGlyphs" >3</text>
<rect x="470.8" y="716.6" width="1.2" height="3" fill="#fff"/>
<text x="470.8" y="731.2" font-size="13" fill="#fff" text-anchor="middle" class="mono" textLength="5.6000000000000005" lengthAdjust="spacingAndGlyphs" >4</text>
<rect x="540.7" y="716.6" width="1.2" height="3" fill="#fff"/>
<text x="540.7" y="731.2" font-size="13" fill="#fff" text-anchor="middle" class="mono" textLength="5.6000000000000005" lengthAdjust="spacingAndGlyphs" >5</text>
<rect x="704.5" y="716.6" width="1.2" height="3" fill="#fff"/>
<text x="704.5" y="731.2" font-size="13" fill="#fff" text-anchor="middle" class="mono" textLength="11.5" lengthAdjust="spacingAndGlyphs" >10</text>
<rect x="774.5" y="716.6" width="1.2" height="3" fill="#fff"/>
<text x="774.5" y="731.2" font-size="13" fill="#fff" text-anchor="middle" class="mono" textLength="11.5" lengthAdjust="spacingAndGlyphs" >11</text>
<rect x="844.5" y="716.6" width="1.2" height="3" fill="#fff"/>
<text x="844.5" y="731.2" font-size="13" fill="#fff" text-anchor="middle" class="mono" textLength="11.5" lengthAdjust="spacingAndGlyphs" >12</text>
<rect x="914.5" y="716.6" width="1.2" height="3" fill="#fff"/>
<text x="914.5" y="731.2" font-size="13" fill="#fff" text-anchor="middle" class="mono" textLength="11.5" lengthAdjust="spacingAndGlyphs" >13</text>
<rect x="984.5" y="716.6" width="1.2" height="3" fill="#fff"/>
<text x="984.5" y="731.2" font-size="13" fill="#fff" text-anchor="middle" class="mono" textLength="11.5" lengthAdjust="spacingAndGlyphs" >14</text>
<rect x="1054.5" y="716.6" width="1.2" height="3" fill="#fff"/>
<text x="1054.5" y="731.2" font-size="13" fill="#fff" text-anchor="middle" class="mono" textLength="11.5" lengthAdjust="spacingAndGlyphs" >15</text>
<rect x="616.9" y="716.6" width="1.2" height="3" fill="#fff"/>
<text x="617.5" y="731.2" font-size="13" fill="#fff" text-anchor="middle" font-weight="bold" class="mono" textLength="37" lengthAdjust="spacingAndGlyphs" >3/8:45</text>
<rect x="1113.8" y="716.6" width="1.2" height="3" fill="#fff"/>
<text x="1099" y="731.2" font-size="13" fill="#fff" font-weight="bold" class="mono" textLength="30.5" lengthAdjust="spacingAndGlyphs" >17:00</text>
<text x="14.6" y="89.4" font-size="13" fill="#000" class="mono" textLength="5.6" lengthAdjust="spacingAndGlyphs" >5</text>
<text x="20.6" y="89.4" font-size="12" fill="#000" textLength="23.4" lengthAdjust="spacingAndGlyphs" >分足</text>
<polygon points="5,744.7 126,744.7 127,745.4 138,745.4 139,744.7 159,743.6 166,742 180,741.2 186,742.6 193,742 221,740.2 242,740.2 249,741.2 280,740.6 311,740.2 318,742 352,742 359,743 380,742.5 400,741.6 434,741.2 441,743.6 503,742.6 510,743.6 528,742.6 538,742 580,741.2 586,742.6 630,743.2 676,743.6 683,746 742,745.4 745,747 783,747 783,749 6,749" fill="#6c6c6c"/>
<polyline points="5.0,744.7 126.0,744.7 127.0,745.4 138.0,745.4 139.0,744.7 159.0,743.6 166.0,742.0 180.0,741.2 186.0,742.6 193.0,742.0 221.0,740.2 242.0,740.2 249.0,741.2 280.0,740.6 311.0,740.2 318.0,742.0 352.0,742.0 359.0,743.0 380.0,742.5 400.0,741.6 434.0,741.2 441.0,743.6 503.0,742.6 510.0,743.6 528.0,742.6 538.0,742.0 580.0,741.2 586.0,742.6 630.0,743.2 676.0,743.6 683.0,746.0 742.0,745.4 745.0,747.0 783.0,747.0" fill="none" stroke="#f4f4f4" stroke-width="1" />
<rect x="783" y="741" width="148" height="8" fill="url(#gold)"/>
<rect x="782" y="740.5" width="4" height="8.5" fill="#8c8c8c"/><rect x="927.5" y="740.5" width="4" height="8.5" fill="#8c8c8c"/>
<polyline points="786.0,746.2 850.0,745.6 857.0,745.0 862.0,747.0 900.0,747.3 920.0,748.0" fill="none" stroke="#f4f4f4" stroke-width="1" />
<rect x="854.5" y="745.5" width="1" height="3.5" fill="#222"/><rect x="857" y="745.5" width="1" height="3.5" fill="#222"/>
<rect x="4.7" y="397.8" width="147.8" height="272.7" fill="#cfdeff" stroke="#000" stroke-width="1"/>
<text x="148.8" y="409.2" font-size="13" fill="#000" text-anchor="end" class="mono" textLength="115.3" lengthAdjust="spacingAndGlyphs" >2026/03/03 10:25:00</text>
<text x="5.7" y="422.76" font-size="12" fill="#000" textLength="23.6" lengthAdjust="spacingAndGlyphs" >始値</text>
<text x="148.8" y="422.76" font-size="13" fill="#000" text-anchor="end" class="mono" textLength="29.9" lengthAdjust="spacingAndGlyphs" >57485</text>
<text x="5.7" y="436.32" font-size="12" fill="#000" textLength="23.6" lengthAdjust="spacingAndGlyphs" >高値</text>
<text x="148.8" y="436.32" font-size="13" fill="#000" text-anchor="end" class="mono" textLength="29.9" lengthAdjust="spacingAndGlyphs" >57490</text>
<text x="5.7" y="449.88" font-size="12" fill="#000" textLength="23.6" lengthAdjust="spacingAndGlyphs" >安値</text>
<text x="148.8" y="449.88" font-size="13" fill="#000" text-anchor="end" class="mono" textLength="29.9" lengthAdjust="spacingAndGlyphs" >57290</text>
<text x="5.7" y="463.44" font-size="12" fill="#000" textLength="23.6" lengthAdjust="spacingAndGlyphs" >終値</text>
<text x="148.8" y="463.44" font-size="13" fill="#000" text-anchor="end" class="mono" textLength="29.9" lengthAdjust="spacingAndGlyphs" >57320</text>
<text x="5.7" y="477.0" font-size="13" fill="#ff10ff" class="mono" textLength="23.6" lengthAdjust="spacingAndGlyphs" >Vwap</text>
<text x="148.8" y="477.0" font-size="13" fill="#000" text-anchor="end" class="mono" textLength="48.199999999999996" lengthAdjust="spacingAndGlyphs" >57487.47</text>
<text x="5.7" y="490.56" font-size="13" fill="#6890e0" class="mono" textLength="17.6" lengthAdjust="spacingAndGlyphs" >RSI</text>
<text x="148.8" y="490.56" font-size="13" fill="#000" text-anchor="end" class="mono" textLength="29.9" lengthAdjust="spacingAndGlyphs" >27.69</text>
<text x="5.7" y="504.12" font-size="13" fill="#ff1480" class="mono" textLength="23.6" lengthAdjust="spacingAndGlyphs" >RCI1</text>
<text x="148.8" y="504.12" font-size="13" fill="#000" text-anchor="end" class="mono" textLength="35.99999999999999" lengthAdjust="spacingAndGlyphs" >-79.72</text>
<text x="5.7" y="517.68" font-size="13" fill="#108010" class="mono" textLength="23.6" lengthAdjust="spacingAndGlyphs" >RCI2</text>
<text x="148.8" y="517.68" font-size="13" fill="#000" text-anchor="end" class="mono" textLength="35.99999999999999" lengthAdjust="spacingAndGlyphs" >-85.20</text>
<text x="5.7" y="531.24" font-size="12" fill="#808080" textLength="35.6" lengthAdjust="spacingAndGlyphs" >売買高</text>
<text x="148.8" y="531.24" font-size="13" fill="#000" text-anchor="end" class="mono" textLength="23.799999999999997" lengthAdjust="spacingAndGlyphs" >5462</text>
<text x="5.7" y="544.8" font-size="13" fill="#c02020" class="mono" textLength="5.6" lengthAdjust="spacingAndGlyphs" >V</text>
<text x="11.7" y="544.8" font-size="12" fill="#c02020" textLength="23.6" lengthAdjust="spacingAndGlyphs" >平均</text>
<text x="35.7" y="544.8" font-size="13" fill="#c02020" class="mono" textLength="5.6" lengthAdjust="spacingAndGlyphs" >1</text>
<text x="148.8" y="544.8" font-size="13" fill="#000" text-anchor="end" class="mono" textLength="42.099999999999994" lengthAdjust="spacingAndGlyphs" >4022.83</text>
<text x="5.7" y="558.36" font-size="13" fill="#6060c8" class="mono" textLength="5.6" lengthAdjust="spacingAndGlyphs" >V</text>
<text x="11.7" y="558.36" font-size="12" fill="#6060c8" textLength="23.6" lengthAdjust="spacingAndGlyphs" >平均</text>
<text x="35.7" y="558.36" font-size="13" fill="#6060c8" class="mono" textLength="5.6" lengthAdjust="spacingAndGlyphs" >2</text>
<text x="148.8" y="558.36" font-size="13" fill="#000" text-anchor="end" class="mono" textLength="42.099999999999994" lengthAdjust="spacingAndGlyphs" >3886.08</text>
<text x="5.7" y="571.92" font-size="12" fill="#ff1010" textLength="23.6" lengthAdjust="spacingAndGlyphs" >平均</text>
<text x="29.7" y="571.92" font-size="13" fill="#ff1010" class="mono" textLength="5.6" lengthAdjust="spacingAndGlyphs" >1</text>
<text x="148.8" y="571.92" font-size="13" fill="#000" text-anchor="end" class="mono" textLength="48.199999999999996" lengthAdjust="spacingAndGlyphs" >57440.00</text>
<text x="5.7" y="585.48" font-size="12" fill="#2868ff" textLength="23.6" lengthAdjust="spacingAndGlyphs" >平均</text>
<text x="29.7" y="585.48" font-size="13" fill="#2868ff" class="mono" textLength="5.6" lengthAdjust="spacingAndGlyphs" >2</text>
<text x="148.8" y="585.48" font-size="13" fill="#000" text-anchor="end" class="mono" textLength="48.199999999999996" lengthAdjust="spacingAndGlyphs" >57584.40</text>
<text x="5.7" y="599.04" font-size="12" fill="#108010" textLength="23.6" lengthAdjust="spacingAndGlyphs" >平均</text>
<text x="29.7" y="599.04" font-size="13" fill="#108010" class="mono" textLength="5.6" lengthAdjust="spacingAndGlyphs" >3</text>
<text x="148.8" y="599.04" font-size="13" fill="#000" text-anchor="end" class="mono" textLength="48.199999999999996" lengthAdjust="spacingAndGlyphs" >57666.07</text>
<text x="5.7" y="612.6" font-size="12" fill="#b4b4b4" textLength="47.6" lengthAdjust="spacingAndGlyphs" >標準偏差</text>
<text x="53.7" y="612.6" font-size="13" fill="#b4b4b4" class="mono" textLength="11.6" lengthAdjust="spacingAndGlyphs" >+2</text>
<text x="148.8" y="612.6" font-size="13" fill="#000" text-anchor="end" class="mono" textLength="48.199999999999996" lengthAdjust="spacingAndGlyphs" >57814.08</text>
<text x="5.7" y="626.16" font-size="12" fill="#b4b4b4" textLength="47.6" lengthAdjust="spacingAndGlyphs" >標準偏差</text>
<text x="53.7" y="626.16" font-size="13" fill="#b4b4b4" class="mono" textLength="11.6" lengthAdjust="spacingAndGlyphs" >+1</text>
<text x="148.8" y="626.16" font-size="13" fill="#000" text-anchor="end" class="mono" textLength="48.199999999999996" lengthAdjust="spacingAndGlyphs" >57699.24</text>
<text x="5.7" y="639.72" font-size="12" fill="#0808ff" textLength="59.6" lengthAdjust="spacingAndGlyphs" >移動平均線</text>
<text x="148.8" y="639.72" font-size="13" fill="#000" text-anchor="end" class="mono" textLength="48.199999999999996" lengthAdjust="spacingAndGlyphs" >57584.40</text>
<text x="5.7" y="653.28" font-size="12" fill="#b4b4b4" textLength="47.6" lengthAdjust="spacingAndGlyphs" >標準偏差</text>
<text x="53.7" y="653.28" font-size="13" fill="#b4b4b4" class="mono" textLength="11.6" lengthAdjust="spacingAndGlyphs" >-1</text>
<text x="148.8" y="653.28" font-size="13" fill="#000" text-anchor="end" class="mono" textLength="48.199999999999996" lengthAdjust="spacingAndGlyphs" >57469.56</text>
<text x="5.7" y="666.84" font-size="12" fill="#b4b4b4" textLength="47.6" lengthAdjust="spacingAndGlyphs" >標準偏差</text>
<text x="53.7" y="666.84" font-size="13" fill="#b4b4b4" class="mono" textLength="11.6" lengthAdjust="spacingAndGlyphs" >-2</text>
<text x="148.8" y="666.84" font-size="13" fill="#000" text-anchor="end" class="mono" textLength="48.199999999999996" lengthAdjust="spacingAndGlyphs" >57354.72</text>
</svg></body></html>
